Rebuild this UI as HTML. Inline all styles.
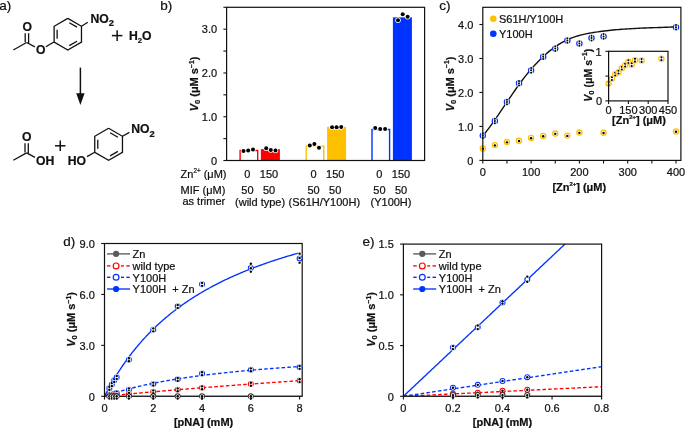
<!DOCTYPE html>
<html><head><meta charset="utf-8"><style>
html,body{margin:0;padding:0;background:#fff;}
svg{display:block;will-change:transform;}
text{font-family:"Liberation Sans", sans-serif;stroke:#111;stroke-width:0.22px;}
</style></head><body>
<svg width="685" height="429" viewBox="0 0 685 429" font-family='"Liberation Sans", sans-serif'>
<rect width="685" height="429" fill="#fff"/>
<text x="-0.80" y="10.20" font-size="13.5" text-anchor="start" font-weight="normal" fill="#111" >a)</text>
<line x1="13.30" y1="50.00" x2="26.60" y2="42.50" stroke="#111" stroke-width="1.3" />
<line x1="25.20" y1="42.30" x2="25.20" y2="33.20" stroke="#111" stroke-width="1.3" />
<line x1="28.60" y1="43.60" x2="28.60" y2="33.20" stroke="#111" stroke-width="1.3" />
<text x="27.20" y="30.80" font-size="12.2" text-anchor="middle" font-weight="bold" fill="#111" >O</text>
<line x1="26.60" y1="42.50" x2="34.90" y2="46.90" stroke="#111" stroke-width="1.3" />
<text x="40.80" y="54.00" font-size="12.2" text-anchor="middle" font-weight="bold" fill="#111" >O</text>
<line x1="45.80" y1="46.80" x2="54.00" y2="42.00" stroke="#111" stroke-width="1.3" />
<polyline points="67.80,18.40 81.48,26.30 81.48,42.10 67.80,50.00 54.12,42.10 54.12,26.30 67.80,18.40" fill="none" stroke="#111" stroke-width="1.3" stroke-linejoin="miter"/>
<line x1="69.29" y1="22.74" x2="76.98" y2="27.18" stroke="#111" stroke-width="1.3" />
<line x1="76.98" y1="41.22" x2="69.29" y2="45.66" stroke="#111" stroke-width="1.3" />
<line x1="57.13" y1="38.64" x2="57.13" y2="29.76" stroke="#111" stroke-width="1.3" />
<line x1="81.48" y1="26.30" x2="87.80" y2="22.30" stroke="#111" stroke-width="1.3" />
<text x="90.4" y="22.6" font-size="12.2" font-weight="bold" fill="#111">NO<tspan font-size="9.3" dy="3.1">2</tspan></text>
<line x1="111.90" y1="35.60" x2="122.40" y2="35.60" stroke="#111" stroke-width="1.5" />
<line x1="117.15" y1="30.30" x2="117.15" y2="40.90" stroke="#111" stroke-width="1.5" />
<text x="129.0" y="40.2" font-size="12.2" font-weight="bold" fill="#111">H<tspan font-size="7.6" dy="2.6">2</tspan><tspan dy="-2.6">O</tspan></text>
<line x1="80.40" y1="67.60" x2="80.40" y2="95.00" stroke="#111" stroke-width="1.5" />
<polygon points="76.2,93.2 84.6,93.2 80.4,105" fill="#111"/>
<line x1="13.30" y1="160.30" x2="26.60" y2="152.90" stroke="#111" stroke-width="1.3" />
<line x1="25.00" y1="152.60" x2="25.00" y2="143.20" stroke="#111" stroke-width="1.3" />
<line x1="28.30" y1="153.80" x2="28.30" y2="143.20" stroke="#111" stroke-width="1.3" />
<text x="26.80" y="141.20" font-size="12.2" text-anchor="middle" font-weight="bold" fill="#111" >O</text>
<line x1="26.60" y1="152.90" x2="35.00" y2="157.30" stroke="#111" stroke-width="1.3" />
<text x="36.00" y="165.00" font-size="12.2" text-anchor="start" font-weight="bold" fill="#111" >OH</text>
<line x1="55.00" y1="145.80" x2="65.50" y2="145.80" stroke="#111" stroke-width="1.5" />
<line x1="60.25" y1="140.60" x2="60.25" y2="151.00" stroke="#111" stroke-width="1.5" />
<polyline points="108.60,128.30 122.46,136.30 122.46,152.30 108.60,160.30 94.74,152.30 94.74,136.30 108.60,128.30" fill="none" stroke="#111" stroke-width="1.3" stroke-linejoin="miter"/>
<line x1="110.11" y1="132.69" x2="117.89" y2="137.19" stroke="#111" stroke-width="1.3" />
<line x1="117.89" y1="151.41" x2="110.11" y2="155.91" stroke="#111" stroke-width="1.3" />
<line x1="97.79" y1="148.79" x2="97.79" y2="139.81" stroke="#111" stroke-width="1.3" />
<line x1="87.00" y1="156.60" x2="94.74" y2="152.30" stroke="#111" stroke-width="1.3" />
<text x="67.80" y="164.60" font-size="12.2" text-anchor="start" font-weight="bold" fill="#111" >HO</text>
<line x1="122.46" y1="136.30" x2="129.40" y2="132.40" stroke="#111" stroke-width="1.3" />
<text x="131.2" y="133.4" font-size="12.2" font-weight="bold" fill="#111">NO<tspan font-size="9.3" dy="3.1">2</tspan></text>
<text x="160.30" y="10.00" font-size="13.5" text-anchor="start" font-weight="normal" fill="#111" >b)</text>
<path d="M240.10,160.50 V150.49 H257.70 V160.50" fill="#fff" stroke="#ff0000" stroke-width="1.4"/>
<circle cx="243.50" cy="151.00" r="2.75" fill="#fff" stroke="none" stroke-width="1"/>
<circle cx="248.20" cy="150.50" r="2.75" fill="#fff" stroke="none" stroke-width="1"/>
<circle cx="253.00" cy="149.60" r="2.75" fill="#fff" stroke="none" stroke-width="1"/>
<circle cx="243.50" cy="151.00" r="2.0" fill="#000" stroke="none" stroke-width="1"/>
<circle cx="248.20" cy="150.50" r="2.0" fill="#000" stroke="none" stroke-width="1"/>
<circle cx="253.00" cy="149.60" r="2.0" fill="#000" stroke="none" stroke-width="1"/>
<rect x="260.90" y="149.12" width="19.00" height="11.38" fill="#ff0000"/>
<circle cx="266.20" cy="148.20" r="2.75" fill="#fff" stroke="none" stroke-width="1"/>
<circle cx="270.80" cy="150.00" r="2.75" fill="#fff" stroke="none" stroke-width="1"/>
<circle cx="275.50" cy="150.40" r="2.75" fill="#fff" stroke="none" stroke-width="1"/>
<circle cx="266.20" cy="148.20" r="2.0" fill="#000" stroke="none" stroke-width="1"/>
<circle cx="270.80" cy="150.00" r="2.0" fill="#000" stroke="none" stroke-width="1"/>
<circle cx="275.50" cy="150.40" r="2.0" fill="#000" stroke="none" stroke-width="1"/>
<path d="M306.20,160.50 V146.12 H323.80 V160.50" fill="#fff" stroke="#ffc000" stroke-width="1.4"/>
<circle cx="309.80" cy="145.50" r="2.75" fill="#fff" stroke="none" stroke-width="1"/>
<circle cx="314.40" cy="144.00" r="2.75" fill="#fff" stroke="none" stroke-width="1"/>
<circle cx="319.00" cy="147.70" r="2.75" fill="#fff" stroke="none" stroke-width="1"/>
<circle cx="309.80" cy="145.50" r="2.0" fill="#000" stroke="none" stroke-width="1"/>
<circle cx="314.40" cy="144.00" r="2.0" fill="#000" stroke="none" stroke-width="1"/>
<circle cx="319.00" cy="147.70" r="2.0" fill="#000" stroke="none" stroke-width="1"/>
<rect x="327.10" y="126.80" width="19.00" height="33.70" fill="#ffc000"/>
<circle cx="332.10" cy="127.20" r="2.75" fill="#fff" stroke="none" stroke-width="1"/>
<circle cx="336.60" cy="127.20" r="2.75" fill="#fff" stroke="none" stroke-width="1"/>
<circle cx="341.20" cy="127.00" r="2.75" fill="#fff" stroke="none" stroke-width="1"/>
<circle cx="332.10" cy="127.20" r="2.0" fill="#000" stroke="none" stroke-width="1"/>
<circle cx="336.60" cy="127.20" r="2.0" fill="#000" stroke="none" stroke-width="1"/>
<circle cx="341.20" cy="127.00" r="2.0" fill="#000" stroke="none" stroke-width="1"/>
<path d="M372.00,160.50 V129.48 H389.60 V160.50" fill="#fff" stroke="#0033ff" stroke-width="1.4"/>
<circle cx="375.20" cy="128.10" r="2.75" fill="#fff" stroke="none" stroke-width="1"/>
<circle cx="380.20" cy="129.00" r="2.75" fill="#fff" stroke="none" stroke-width="1"/>
<circle cx="385.10" cy="129.10" r="2.75" fill="#fff" stroke="none" stroke-width="1"/>
<circle cx="375.20" cy="128.10" r="2.0" fill="#000" stroke="none" stroke-width="1"/>
<circle cx="380.20" cy="129.00" r="2.0" fill="#000" stroke="none" stroke-width="1"/>
<circle cx="385.10" cy="129.10" r="2.0" fill="#000" stroke="none" stroke-width="1"/>
<rect x="392.90" y="17.37" width="19.00" height="143.13" fill="#0033ff"/>
<circle cx="398.00" cy="20.30" r="2.75" fill="#fff" stroke="none" stroke-width="1"/>
<circle cx="402.70" cy="14.30" r="2.75" fill="#fff" stroke="none" stroke-width="1"/>
<circle cx="407.60" cy="16.80" r="2.75" fill="#fff" stroke="none" stroke-width="1"/>
<circle cx="398.00" cy="20.30" r="2.0" fill="#000" stroke="none" stroke-width="1"/>
<circle cx="402.70" cy="14.30" r="2.0" fill="#000" stroke="none" stroke-width="1"/>
<circle cx="407.60" cy="16.80" r="2.0" fill="#000" stroke="none" stroke-width="1"/>
<rect x="226.60" y="7.30" width="198.00" height="153.20" fill="none" stroke="#111" stroke-width="1.2"/>
<line x1="223.40" y1="160.50" x2="226.60" y2="160.50" stroke="#111" stroke-width="1.1" />
<line x1="223.40" y1="138.61" x2="226.60" y2="138.61" stroke="#111" stroke-width="1.1" />
<line x1="223.40" y1="116.73" x2="226.60" y2="116.73" stroke="#111" stroke-width="1.1" />
<line x1="223.40" y1="94.84" x2="226.60" y2="94.84" stroke="#111" stroke-width="1.1" />
<line x1="223.40" y1="72.96" x2="226.60" y2="72.96" stroke="#111" stroke-width="1.1" />
<line x1="223.40" y1="51.07" x2="226.60" y2="51.07" stroke="#111" stroke-width="1.1" />
<line x1="223.40" y1="29.19" x2="226.60" y2="29.19" stroke="#111" stroke-width="1.1" />
<line x1="223.40" y1="7.30" x2="226.60" y2="7.30" stroke="#111" stroke-width="1.1" />
<text x="217.10" y="164.70" font-size="11.0" text-anchor="end" font-weight="normal" fill="#111" >0</text>
<text x="217.10" y="120.93" font-size="11.0" text-anchor="end" font-weight="normal" fill="#111" >1.0</text>
<text x="217.10" y="77.16" font-size="11.0" text-anchor="end" font-weight="normal" fill="#111" >2.0</text>
<text x="217.10" y="33.39" font-size="11.0" text-anchor="end" font-weight="normal" fill="#111" >3.0</text>
<text transform="translate(197.9,84) rotate(-90)" x="0" y="0" font-size="11.0" font-weight="bold" text-anchor="middle" fill="#111"><tspan font-style="italic">V</tspan><tspan font-size="7.5" dy="2">0</tspan><tspan dy="-2"> (μM s</tspan><tspan font-size="6.8" dy="-4.3">−1</tspan><tspan dy="4.3">)</tspan></text>
<text x="180.60" y="177.60" font-size="11.0" text-anchor="start" font-weight="normal" fill="#111" >Zn<tspan font-size="6.3" dy="-4.8">2+</tspan><tspan dy="4.8"> (μM)</tspan></text>
<text x="180.60" y="194.20" font-size="11.0" text-anchor="start" font-weight="normal" fill="#111" >MIF (μM)</text>
<text x="203.80" y="204.80" font-size="11.0" text-anchor="middle" font-weight="normal" fill="#111" >as trimer</text>
<text x="247.40" y="177.60" font-size="11.0" text-anchor="middle" font-weight="normal" fill="#111" >0</text>
<text x="269.00" y="177.60" font-size="11.0" text-anchor="middle" font-weight="normal" fill="#111" >150</text>
<text x="313.60" y="177.60" font-size="11.0" text-anchor="middle" font-weight="normal" fill="#111" >0</text>
<text x="335.20" y="177.60" font-size="11.0" text-anchor="middle" font-weight="normal" fill="#111" >150</text>
<text x="379.40" y="177.60" font-size="11.0" text-anchor="middle" font-weight="normal" fill="#111" >0</text>
<text x="401.00" y="177.60" font-size="11.0" text-anchor="middle" font-weight="normal" fill="#111" >150</text>
<text x="247.40" y="194.20" font-size="11.0" text-anchor="middle" font-weight="normal" fill="#111" >50</text>
<text x="269.00" y="194.20" font-size="11.0" text-anchor="middle" font-weight="normal" fill="#111" >50</text>
<text x="313.60" y="194.20" font-size="11.0" text-anchor="middle" font-weight="normal" fill="#111" >50</text>
<text x="335.20" y="194.20" font-size="11.0" text-anchor="middle" font-weight="normal" fill="#111" >50</text>
<text x="379.40" y="194.20" font-size="11.0" text-anchor="middle" font-weight="normal" fill="#111" >50</text>
<text x="401.00" y="194.20" font-size="11.0" text-anchor="middle" font-weight="normal" fill="#111" >50</text>
<text x="260.10" y="205.80" font-size="11.0" text-anchor="middle" font-weight="normal" fill="#111" >(wild type)</text>
<text x="324.30" y="205.80" font-size="11.0" text-anchor="middle" font-weight="normal" fill="#111" >(S61H/Y100H)</text>
<text x="391.00" y="205.80" font-size="11.0" text-anchor="middle" font-weight="normal" fill="#111" >(Y100H)</text>
<text x="439.20" y="10.30" font-size="13.5" text-anchor="start" font-weight="normal" fill="#111" >c)</text>
<polyline points="482.80,135.94 484.97,133.24 487.14,130.44 489.31,127.55 491.48,124.58 493.65,121.53 495.82,118.43 498.00,115.28 500.17,112.10 502.34,108.89 504.51,105.67 506.68,102.44 508.85,99.23 511.02,96.04 513.19,92.87 515.36,89.76 517.53,86.70 519.70,83.70 521.87,80.78 524.04,77.94 526.22,75.17 528.39,72.49 530.56,69.90 532.73,67.40 534.90,64.98 537.07,62.66 539.24,60.43 541.41,58.28 543.58,56.23 545.75,54.27 547.92,52.40 550.09,50.63 552.27,48.94 554.44,47.35 556.61,45.85 558.78,44.44 560.95,43.12 563.12,41.89 565.29,40.76 567.46,39.72 569.63,38.77 571.80,37.90 573.97,37.11 576.14,36.40 578.31,35.75 580.49,35.15 582.66,34.61 584.83,34.12 587.00,33.67 589.17,33.26 591.34,32.87 593.51,32.51 595.68,32.17 597.85,31.84 600.02,31.53 602.19,31.24 604.36,30.97 606.53,30.71 608.71,30.46 610.88,30.23 613.05,30.02 615.22,29.81 617.39,29.62 619.56,29.44 621.73,29.28 623.90,29.12 626.07,28.97 628.24,28.83 630.41,28.70 632.58,28.58 634.76,28.47 636.93,28.36 639.10,28.26 641.27,28.16 643.44,28.07 645.61,27.99 647.78,27.90 649.95,27.82 652.12,27.75 654.29,27.67 656.46,27.59 658.63,27.52 660.80,27.45 662.98,27.37 665.15,27.29 667.32,27.21 669.49,27.13 671.66,27.05 673.83,26.96 676.00,26.86" fill="none" stroke="#111" stroke-width="1.4" />
<circle cx="482.80" cy="148.51" r="2.55" fill="#fff" stroke="#ffc000" stroke-width="1.3"/>
<circle cx="482.80" cy="148.81" r="1.5" fill="#fff" stroke="none" stroke-width="1"/>
<circle cx="482.80" cy="148.81" r="1.2" fill="#000" stroke="none" stroke-width="1"/>
<circle cx="494.88" cy="145.11" r="2.55" fill="#fff" stroke="#ffc000" stroke-width="1.3"/>
<circle cx="494.88" cy="145.41" r="1.5" fill="#fff" stroke="none" stroke-width="1"/>
<circle cx="494.88" cy="145.41" r="1.2" fill="#000" stroke="none" stroke-width="1"/>
<circle cx="506.95" cy="142.05" r="2.55" fill="#fff" stroke="#ffc000" stroke-width="1.3"/>
<circle cx="506.95" cy="142.35" r="1.5" fill="#fff" stroke="none" stroke-width="1"/>
<circle cx="506.95" cy="142.35" r="1.2" fill="#000" stroke="none" stroke-width="1"/>
<circle cx="519.02" cy="140.69" r="2.55" fill="#fff" stroke="#ffc000" stroke-width="1.3"/>
<circle cx="519.02" cy="140.99" r="1.5" fill="#fff" stroke="none" stroke-width="1"/>
<circle cx="519.02" cy="140.99" r="1.2" fill="#000" stroke="none" stroke-width="1"/>
<circle cx="531.10" cy="137.98" r="2.55" fill="#fff" stroke="#ffc000" stroke-width="1.3"/>
<circle cx="531.10" cy="138.28" r="1.5" fill="#fff" stroke="none" stroke-width="1"/>
<circle cx="531.10" cy="138.28" r="1.2" fill="#000" stroke="none" stroke-width="1"/>
<circle cx="543.17" cy="135.94" r="2.55" fill="#fff" stroke="#ffc000" stroke-width="1.3"/>
<circle cx="543.17" cy="136.24" r="1.5" fill="#fff" stroke="none" stroke-width="1"/>
<circle cx="543.17" cy="136.24" r="1.2" fill="#000" stroke="none" stroke-width="1"/>
<circle cx="555.25" cy="133.56" r="2.55" fill="#fff" stroke="#ffc000" stroke-width="1.3"/>
<circle cx="555.25" cy="133.86" r="1.5" fill="#fff" stroke="none" stroke-width="1"/>
<circle cx="555.25" cy="133.86" r="1.2" fill="#000" stroke="none" stroke-width="1"/>
<circle cx="567.33" cy="135.60" r="2.55" fill="#fff" stroke="#ffc000" stroke-width="1.3"/>
<circle cx="567.33" cy="135.90" r="1.5" fill="#fff" stroke="none" stroke-width="1"/>
<circle cx="567.33" cy="135.90" r="1.2" fill="#000" stroke="none" stroke-width="1"/>
<circle cx="579.40" cy="132.54" r="2.55" fill="#fff" stroke="#ffc000" stroke-width="1.3"/>
<circle cx="579.40" cy="132.84" r="1.5" fill="#fff" stroke="none" stroke-width="1"/>
<circle cx="579.40" cy="132.84" r="1.2" fill="#000" stroke="none" stroke-width="1"/>
<circle cx="603.55" cy="132.71" r="2.55" fill="#fff" stroke="#ffc000" stroke-width="1.3"/>
<circle cx="603.55" cy="133.01" r="1.5" fill="#fff" stroke="none" stroke-width="1"/>
<circle cx="603.55" cy="133.01" r="1.2" fill="#000" stroke="none" stroke-width="1"/>
<circle cx="676.00" cy="131.52" r="2.55" fill="#fff" stroke="#ffc000" stroke-width="1.3"/>
<circle cx="676.00" cy="131.82" r="1.5" fill="#fff" stroke="none" stroke-width="1"/>
<circle cx="676.00" cy="131.82" r="1.2" fill="#000" stroke="none" stroke-width="1"/>
<circle cx="482.80" cy="135.60" r="2.6" fill="#fff" stroke="#0033ff" stroke-width="1.25"/>
<circle cx="482.80" cy="133.30" r="1.7" fill="#fff" stroke="none" stroke-width="1"/>
<circle cx="482.80" cy="135.60" r="1.7" fill="#fff" stroke="none" stroke-width="1"/>
<circle cx="482.80" cy="137.90" r="1.7" fill="#fff" stroke="none" stroke-width="1"/>
<circle cx="482.80" cy="133.30" r="1.0" fill="#000" stroke="none" stroke-width="1"/>
<circle cx="482.80" cy="135.60" r="1.0" fill="#000" stroke="none" stroke-width="1"/>
<circle cx="482.80" cy="137.90" r="1.0" fill="#000" stroke="none" stroke-width="1"/>
<circle cx="494.88" cy="120.99" r="2.6" fill="#fff" stroke="#0033ff" stroke-width="1.25"/>
<circle cx="494.88" cy="118.69" r="1.7" fill="#fff" stroke="none" stroke-width="1"/>
<circle cx="494.88" cy="120.99" r="1.7" fill="#fff" stroke="none" stroke-width="1"/>
<circle cx="494.88" cy="123.29" r="1.7" fill="#fff" stroke="none" stroke-width="1"/>
<circle cx="494.88" cy="118.69" r="1.0" fill="#000" stroke="none" stroke-width="1"/>
<circle cx="494.88" cy="120.99" r="1.0" fill="#000" stroke="none" stroke-width="1"/>
<circle cx="494.88" cy="123.29" r="1.0" fill="#000" stroke="none" stroke-width="1"/>
<circle cx="506.95" cy="101.96" r="2.6" fill="#fff" stroke="#0033ff" stroke-width="1.25"/>
<circle cx="506.95" cy="99.66" r="1.7" fill="#fff" stroke="none" stroke-width="1"/>
<circle cx="506.95" cy="101.96" r="1.7" fill="#fff" stroke="none" stroke-width="1"/>
<circle cx="506.95" cy="104.26" r="1.7" fill="#fff" stroke="none" stroke-width="1"/>
<circle cx="506.95" cy="99.66" r="1.0" fill="#000" stroke="none" stroke-width="1"/>
<circle cx="506.95" cy="101.96" r="1.0" fill="#000" stroke="none" stroke-width="1"/>
<circle cx="506.95" cy="104.26" r="1.0" fill="#000" stroke="none" stroke-width="1"/>
<circle cx="519.02" cy="83.28" r="2.6" fill="#fff" stroke="#0033ff" stroke-width="1.25"/>
<circle cx="519.02" cy="80.98" r="1.7" fill="#fff" stroke="none" stroke-width="1"/>
<circle cx="519.02" cy="83.28" r="1.7" fill="#fff" stroke="none" stroke-width="1"/>
<circle cx="519.02" cy="85.58" r="1.7" fill="#fff" stroke="none" stroke-width="1"/>
<circle cx="519.02" cy="80.98" r="1.0" fill="#000" stroke="none" stroke-width="1"/>
<circle cx="519.02" cy="83.28" r="1.0" fill="#000" stroke="none" stroke-width="1"/>
<circle cx="519.02" cy="85.58" r="1.0" fill="#000" stroke="none" stroke-width="1"/>
<circle cx="531.10" cy="70.37" r="2.6" fill="#fff" stroke="#0033ff" stroke-width="1.25"/>
<circle cx="531.10" cy="68.07" r="1.7" fill="#fff" stroke="none" stroke-width="1"/>
<circle cx="531.10" cy="70.37" r="1.7" fill="#fff" stroke="none" stroke-width="1"/>
<circle cx="531.10" cy="72.67" r="1.7" fill="#fff" stroke="none" stroke-width="1"/>
<circle cx="531.10" cy="68.07" r="1.0" fill="#000" stroke="none" stroke-width="1"/>
<circle cx="531.10" cy="70.37" r="1.0" fill="#000" stroke="none" stroke-width="1"/>
<circle cx="531.10" cy="72.67" r="1.0" fill="#000" stroke="none" stroke-width="1"/>
<circle cx="543.17" cy="56.78" r="2.6" fill="#fff" stroke="#0033ff" stroke-width="1.25"/>
<circle cx="543.17" cy="54.48" r="1.7" fill="#fff" stroke="none" stroke-width="1"/>
<circle cx="543.17" cy="56.78" r="1.7" fill="#fff" stroke="none" stroke-width="1"/>
<circle cx="543.17" cy="59.08" r="1.7" fill="#fff" stroke="none" stroke-width="1"/>
<circle cx="543.17" cy="54.48" r="1.0" fill="#000" stroke="none" stroke-width="1"/>
<circle cx="543.17" cy="56.78" r="1.0" fill="#000" stroke="none" stroke-width="1"/>
<circle cx="543.17" cy="59.08" r="1.0" fill="#000" stroke="none" stroke-width="1"/>
<circle cx="555.25" cy="48.62" r="2.6" fill="#fff" stroke="#0033ff" stroke-width="1.25"/>
<circle cx="555.25" cy="46.32" r="1.7" fill="#fff" stroke="none" stroke-width="1"/>
<circle cx="555.25" cy="48.62" r="1.7" fill="#fff" stroke="none" stroke-width="1"/>
<circle cx="555.25" cy="50.92" r="1.7" fill="#fff" stroke="none" stroke-width="1"/>
<circle cx="555.25" cy="46.32" r="1.0" fill="#000" stroke="none" stroke-width="1"/>
<circle cx="555.25" cy="48.62" r="1.0" fill="#000" stroke="none" stroke-width="1"/>
<circle cx="555.25" cy="50.92" r="1.0" fill="#000" stroke="none" stroke-width="1"/>
<circle cx="567.33" cy="40.47" r="2.6" fill="#fff" stroke="#0033ff" stroke-width="1.25"/>
<circle cx="567.33" cy="38.17" r="1.7" fill="#fff" stroke="none" stroke-width="1"/>
<circle cx="567.33" cy="40.47" r="1.7" fill="#fff" stroke="none" stroke-width="1"/>
<circle cx="567.33" cy="42.77" r="1.7" fill="#fff" stroke="none" stroke-width="1"/>
<circle cx="567.33" cy="38.17" r="1.0" fill="#000" stroke="none" stroke-width="1"/>
<circle cx="567.33" cy="40.47" r="1.0" fill="#000" stroke="none" stroke-width="1"/>
<circle cx="567.33" cy="42.77" r="1.0" fill="#000" stroke="none" stroke-width="1"/>
<circle cx="579.40" cy="43.53" r="2.6" fill="#fff" stroke="#0033ff" stroke-width="1.25"/>
<circle cx="579.40" cy="41.23" r="1.7" fill="#fff" stroke="none" stroke-width="1"/>
<circle cx="579.40" cy="43.53" r="1.7" fill="#fff" stroke="none" stroke-width="1"/>
<circle cx="579.40" cy="45.83" r="1.7" fill="#fff" stroke="none" stroke-width="1"/>
<circle cx="579.40" cy="41.23" r="1.0" fill="#000" stroke="none" stroke-width="1"/>
<circle cx="579.40" cy="43.53" r="1.0" fill="#000" stroke="none" stroke-width="1"/>
<circle cx="579.40" cy="45.83" r="1.0" fill="#000" stroke="none" stroke-width="1"/>
<circle cx="591.48" cy="38.09" r="2.6" fill="#fff" stroke="#0033ff" stroke-width="1.25"/>
<circle cx="591.48" cy="35.79" r="1.7" fill="#fff" stroke="none" stroke-width="1"/>
<circle cx="591.48" cy="38.09" r="1.7" fill="#fff" stroke="none" stroke-width="1"/>
<circle cx="591.48" cy="40.39" r="1.7" fill="#fff" stroke="none" stroke-width="1"/>
<circle cx="591.48" cy="35.79" r="1.0" fill="#000" stroke="none" stroke-width="1"/>
<circle cx="591.48" cy="38.09" r="1.0" fill="#000" stroke="none" stroke-width="1"/>
<circle cx="591.48" cy="40.39" r="1.0" fill="#000" stroke="none" stroke-width="1"/>
<circle cx="603.55" cy="36.39" r="2.6" fill="#fff" stroke="#0033ff" stroke-width="1.25"/>
<circle cx="603.55" cy="34.09" r="1.7" fill="#fff" stroke="none" stroke-width="1"/>
<circle cx="603.55" cy="36.39" r="1.7" fill="#fff" stroke="none" stroke-width="1"/>
<circle cx="603.55" cy="38.69" r="1.7" fill="#fff" stroke="none" stroke-width="1"/>
<circle cx="603.55" cy="34.09" r="1.0" fill="#000" stroke="none" stroke-width="1"/>
<circle cx="603.55" cy="36.39" r="1.0" fill="#000" stroke="none" stroke-width="1"/>
<circle cx="603.55" cy="38.69" r="1.0" fill="#000" stroke="none" stroke-width="1"/>
<circle cx="676.00" cy="27.22" r="2.6" fill="#fff" stroke="#0033ff" stroke-width="1.25"/>
<circle cx="676.00" cy="24.92" r="1.7" fill="#fff" stroke="none" stroke-width="1"/>
<circle cx="676.00" cy="27.22" r="1.7" fill="#fff" stroke="none" stroke-width="1"/>
<circle cx="676.00" cy="29.52" r="1.7" fill="#fff" stroke="none" stroke-width="1"/>
<circle cx="676.00" cy="24.92" r="1.0" fill="#000" stroke="none" stroke-width="1"/>
<circle cx="676.00" cy="27.22" r="1.0" fill="#000" stroke="none" stroke-width="1"/>
<circle cx="676.00" cy="29.52" r="1.0" fill="#000" stroke="none" stroke-width="1"/>
<rect x="482.80" y="7.30" width="198.10" height="153.10" fill="none" stroke="#111" stroke-width="1.2"/>
<line x1="479.40" y1="160.40" x2="482.80" y2="160.40" stroke="#111" stroke-width="1.1" />
<text x="473.40" y="164.60" font-size="11.0" text-anchor="end" font-weight="normal" fill="#111" >0</text>
<line x1="479.40" y1="126.43" x2="482.80" y2="126.43" stroke="#111" stroke-width="1.1" />
<text x="473.40" y="130.62" font-size="11.0" text-anchor="end" font-weight="normal" fill="#111" >1.0</text>
<line x1="479.40" y1="92.45" x2="482.80" y2="92.45" stroke="#111" stroke-width="1.1" />
<text x="473.40" y="96.65" font-size="11.0" text-anchor="end" font-weight="normal" fill="#111" >2.0</text>
<line x1="479.40" y1="58.47" x2="482.80" y2="58.47" stroke="#111" stroke-width="1.1" />
<text x="473.40" y="62.67" font-size="11.0" text-anchor="end" font-weight="normal" fill="#111" >3.0</text>
<line x1="479.40" y1="24.50" x2="482.80" y2="24.50" stroke="#111" stroke-width="1.1" />
<text x="473.40" y="28.70" font-size="11.0" text-anchor="end" font-weight="normal" fill="#111" >4.0</text>
<line x1="482.80" y1="160.40" x2="482.80" y2="163.40" stroke="#111" stroke-width="1.1" />
<line x1="506.95" y1="160.40" x2="506.95" y2="163.40" stroke="#111" stroke-width="1.1" />
<line x1="531.10" y1="160.40" x2="531.10" y2="163.40" stroke="#111" stroke-width="1.1" />
<line x1="555.25" y1="160.40" x2="555.25" y2="163.40" stroke="#111" stroke-width="1.1" />
<line x1="579.40" y1="160.40" x2="579.40" y2="163.40" stroke="#111" stroke-width="1.1" />
<line x1="603.55" y1="160.40" x2="603.55" y2="163.40" stroke="#111" stroke-width="1.1" />
<line x1="627.70" y1="160.40" x2="627.70" y2="163.40" stroke="#111" stroke-width="1.1" />
<line x1="651.85" y1="160.40" x2="651.85" y2="163.40" stroke="#111" stroke-width="1.1" />
<line x1="676.00" y1="160.40" x2="676.00" y2="163.40" stroke="#111" stroke-width="1.1" />
<text x="482.80" y="175.60" font-size="11.0" text-anchor="middle" font-weight="normal" fill="#111" >0</text>
<text x="531.10" y="175.60" font-size="11.0" text-anchor="middle" font-weight="normal" fill="#111" >100</text>
<text x="579.40" y="175.60" font-size="11.0" text-anchor="middle" font-weight="normal" fill="#111" >200</text>
<text x="627.70" y="175.60" font-size="11.0" text-anchor="middle" font-weight="normal" fill="#111" >300</text>
<text x="676.00" y="175.60" font-size="11.0" text-anchor="middle" font-weight="normal" fill="#111" >400</text>
<text x="579.3" y="190.5" font-size="11.0" font-weight="bold" text-anchor="middle" fill="#111">[Zn<tspan font-size="5.9" dy="-4.8">2+</tspan><tspan dy="4.8">] (μM)</tspan></text>
<text transform="translate(453.6,84) rotate(-90)" x="0" y="0" font-size="11.0" font-weight="bold" text-anchor="middle" fill="#111"><tspan font-style="italic">V</tspan><tspan font-size="7.5" dy="2">0</tspan><tspan dy="-2"> (μM s</tspan><tspan font-size="6.8" dy="-4.3">−1</tspan><tspan dy="4.3">)</tspan></text>
<circle cx="493.30" cy="18.80" r="3.3" fill="#ffc000" stroke="none" stroke-width="1"/>
<circle cx="493.30" cy="33.80" r="3.3" fill="#0033ff" stroke="none" stroke-width="1"/>
<text x="499.00" y="22.80" font-size="11.0" text-anchor="start" font-weight="normal" fill="#111" >S61H/Y100H</text>
<text x="499.00" y="37.80" font-size="11.0" text-anchor="start" font-weight="normal" fill="#111" >Y100H</text>
<rect x="606.60" y="49.30" width="63.40" height="53.60" fill="#fff"/>
<circle cx="608.60" cy="83.54" r="2.6" fill="#fff" stroke="#ffc000" stroke-width="1.2"/>
<circle cx="608.60" cy="82.14" r="1.55" fill="#fff" stroke="none" stroke-width="1"/>
<circle cx="608.60" cy="84.94" r="1.55" fill="#fff" stroke="none" stroke-width="1"/>
<circle cx="608.60" cy="82.14" r="1.05" fill="#000" stroke="none" stroke-width="1"/>
<circle cx="608.60" cy="84.94" r="1.05" fill="#000" stroke="none" stroke-width="1"/>
<circle cx="611.90" cy="78.58" r="2.6" fill="#fff" stroke="#ffc000" stroke-width="1.2"/>
<circle cx="611.90" cy="77.18" r="1.55" fill="#fff" stroke="none" stroke-width="1"/>
<circle cx="611.90" cy="79.98" r="1.55" fill="#fff" stroke="none" stroke-width="1"/>
<circle cx="611.90" cy="77.18" r="1.05" fill="#000" stroke="none" stroke-width="1"/>
<circle cx="611.90" cy="79.98" r="1.05" fill="#000" stroke="none" stroke-width="1"/>
<circle cx="615.20" cy="74.12" r="2.6" fill="#fff" stroke="#ffc000" stroke-width="1.2"/>
<circle cx="615.20" cy="72.72" r="1.55" fill="#fff" stroke="none" stroke-width="1"/>
<circle cx="615.20" cy="75.52" r="1.55" fill="#fff" stroke="none" stroke-width="1"/>
<circle cx="615.20" cy="72.72" r="1.05" fill="#000" stroke="none" stroke-width="1"/>
<circle cx="615.20" cy="75.52" r="1.05" fill="#000" stroke="none" stroke-width="1"/>
<circle cx="618.50" cy="72.13" r="2.6" fill="#fff" stroke="#ffc000" stroke-width="1.2"/>
<circle cx="618.50" cy="70.73" r="1.55" fill="#fff" stroke="none" stroke-width="1"/>
<circle cx="618.50" cy="73.53" r="1.55" fill="#fff" stroke="none" stroke-width="1"/>
<circle cx="618.50" cy="70.73" r="1.05" fill="#000" stroke="none" stroke-width="1"/>
<circle cx="618.50" cy="73.53" r="1.05" fill="#000" stroke="none" stroke-width="1"/>
<circle cx="621.80" cy="68.16" r="2.6" fill="#fff" stroke="#ffc000" stroke-width="1.2"/>
<circle cx="621.80" cy="66.76" r="1.55" fill="#fff" stroke="none" stroke-width="1"/>
<circle cx="621.80" cy="69.56" r="1.55" fill="#fff" stroke="none" stroke-width="1"/>
<circle cx="621.80" cy="66.76" r="1.05" fill="#000" stroke="none" stroke-width="1"/>
<circle cx="621.80" cy="69.56" r="1.05" fill="#000" stroke="none" stroke-width="1"/>
<circle cx="625.10" cy="65.19" r="2.6" fill="#fff" stroke="#ffc000" stroke-width="1.2"/>
<circle cx="625.10" cy="63.79" r="1.55" fill="#fff" stroke="none" stroke-width="1"/>
<circle cx="625.10" cy="66.59" r="1.55" fill="#fff" stroke="none" stroke-width="1"/>
<circle cx="625.10" cy="63.79" r="1.05" fill="#000" stroke="none" stroke-width="1"/>
<circle cx="625.10" cy="66.59" r="1.05" fill="#000" stroke="none" stroke-width="1"/>
<circle cx="628.40" cy="61.72" r="2.6" fill="#fff" stroke="#ffc000" stroke-width="1.2"/>
<circle cx="628.40" cy="60.32" r="1.55" fill="#fff" stroke="none" stroke-width="1"/>
<circle cx="628.40" cy="63.12" r="1.55" fill="#fff" stroke="none" stroke-width="1"/>
<circle cx="628.40" cy="60.32" r="1.05" fill="#000" stroke="none" stroke-width="1"/>
<circle cx="628.40" cy="63.12" r="1.05" fill="#000" stroke="none" stroke-width="1"/>
<circle cx="631.70" cy="64.69" r="2.6" fill="#fff" stroke="#ffc000" stroke-width="1.2"/>
<circle cx="631.70" cy="63.29" r="1.55" fill="#fff" stroke="none" stroke-width="1"/>
<circle cx="631.70" cy="66.09" r="1.55" fill="#fff" stroke="none" stroke-width="1"/>
<circle cx="631.70" cy="63.29" r="1.05" fill="#000" stroke="none" stroke-width="1"/>
<circle cx="631.70" cy="66.09" r="1.05" fill="#000" stroke="none" stroke-width="1"/>
<circle cx="635.00" cy="60.23" r="2.6" fill="#fff" stroke="#ffc000" stroke-width="1.2"/>
<circle cx="635.00" cy="58.83" r="1.55" fill="#fff" stroke="none" stroke-width="1"/>
<circle cx="635.00" cy="61.63" r="1.55" fill="#fff" stroke="none" stroke-width="1"/>
<circle cx="635.00" cy="58.83" r="1.05" fill="#000" stroke="none" stroke-width="1"/>
<circle cx="635.00" cy="61.63" r="1.05" fill="#000" stroke="none" stroke-width="1"/>
<circle cx="641.60" cy="60.48" r="2.6" fill="#fff" stroke="#ffc000" stroke-width="1.2"/>
<circle cx="641.60" cy="59.08" r="1.55" fill="#fff" stroke="none" stroke-width="1"/>
<circle cx="641.60" cy="61.88" r="1.55" fill="#fff" stroke="none" stroke-width="1"/>
<circle cx="641.60" cy="59.08" r="1.05" fill="#000" stroke="none" stroke-width="1"/>
<circle cx="641.60" cy="61.88" r="1.05" fill="#000" stroke="none" stroke-width="1"/>
<circle cx="661.40" cy="58.74" r="2.6" fill="#fff" stroke="#ffc000" stroke-width="1.2"/>
<circle cx="661.40" cy="57.34" r="1.55" fill="#fff" stroke="none" stroke-width="1"/>
<circle cx="661.40" cy="60.14" r="1.55" fill="#fff" stroke="none" stroke-width="1"/>
<circle cx="661.40" cy="57.34" r="1.05" fill="#000" stroke="none" stroke-width="1"/>
<circle cx="661.40" cy="60.14" r="1.05" fill="#000" stroke="none" stroke-width="1"/>
<rect x="608.60" y="51.30" width="59.40" height="49.60" fill="none" stroke="#111" stroke-width="1.2"/>
<line x1="605.40" y1="100.90" x2="608.60" y2="100.90" stroke="#111" stroke-width="1.1" />
<line x1="605.40" y1="76.10" x2="608.60" y2="76.10" stroke="#111" stroke-width="1.1" />
<line x1="605.40" y1="51.30" x2="608.60" y2="51.30" stroke="#111" stroke-width="1.1" />
<text x="601.60" y="55.50" font-size="11.0" text-anchor="end" font-weight="normal" fill="#111" >1</text>
<text x="602.10" y="105.10" font-size="11.0" text-anchor="end" font-weight="normal" fill="#111" >0</text>
<line x1="608.60" y1="100.90" x2="608.60" y2="103.90" stroke="#111" stroke-width="1.1" />
<text x="608.60" y="113.90" font-size="11.0" text-anchor="middle" font-weight="normal" fill="#111" >0</text>
<line x1="628.40" y1="100.90" x2="628.40" y2="103.90" stroke="#111" stroke-width="1.1" />
<text x="628.40" y="113.90" font-size="11.0" text-anchor="middle" font-weight="normal" fill="#111" >150</text>
<line x1="648.20" y1="100.90" x2="648.20" y2="103.90" stroke="#111" stroke-width="1.1" />
<text x="648.20" y="113.90" font-size="11.0" text-anchor="middle" font-weight="normal" fill="#111" >300</text>
<line x1="668.00" y1="100.90" x2="668.00" y2="103.90" stroke="#111" stroke-width="1.1" />
<text x="668.00" y="113.90" font-size="11.0" text-anchor="middle" font-weight="normal" fill="#111" >450</text>
<text x="639.0" y="123.8" font-size="11.0" font-weight="bold" text-anchor="middle" fill="#111">[Zn<tspan font-size="5.9" dy="-4.8">2+</tspan><tspan dy="4.8">] (μM)</tspan></text>
<text transform="translate(591.6,75.2) rotate(-90)" x="0" y="0" font-size="10.6" font-weight="bold" text-anchor="middle" fill="#111"><tspan font-style="italic">V</tspan><tspan font-size="7.5" dy="2">0</tspan><tspan dy="-2"> (μM s</tspan><tspan font-size="6.8" dy="-4.3">−1</tspan><tspan dy="4.3">)</tspan></text>
<text x="63.20" y="246.30" font-size="13.5" text-anchor="start" font-weight="normal" fill="#111" >d)</text>
<clipPath id="clipd"><rect x="104.5" y="243.5" width="197.7" height="152.8"/></clipPath>
<g clip-path="url(#clipd)">
<polyline points="104.50,396.30 105.50,396.30 106.51,396.30 107.51,396.30 108.52,396.30 109.52,396.30 110.53,396.30 111.53,396.30 112.54,396.30 113.54,396.30 114.55,396.30 115.55,396.30 116.56,396.30 117.56,396.30 118.57,396.30 119.57,396.30 120.58,396.30 121.58,396.30 122.59,396.30 123.59,396.30 124.60,396.30 125.60,396.30 126.61,396.30 127.61,396.30 128.62,396.30 129.62,396.30 130.63,396.30 131.63,396.30 132.64,396.30 133.64,396.30 134.65,396.30 135.65,396.30 136.66,396.30 137.66,396.30 138.67,396.30 139.67,396.30 140.68,396.30 141.68,396.30 142.69,396.30 143.69,396.30 144.70,396.30 145.70,396.30 146.71,396.30 147.71,396.30 148.72,396.30 149.72,396.30 150.73,396.30 151.73,396.30 152.74,396.30 153.74,396.30 154.75,396.30 155.75,396.30 156.76,396.30 157.76,396.30 158.77,396.30 159.77,396.30 160.78,396.30 161.78,396.30 162.78,396.30 163.79,396.30 164.79,396.30 165.80,396.30 166.80,396.30 167.81,396.30 168.81,396.30 169.82,396.30 170.82,396.30 171.83,396.30 172.83,396.30 173.84,396.30 174.84,396.30 175.85,396.30 176.85,396.30 177.86,396.30 178.86,396.30 179.87,396.30 180.87,396.30 181.88,396.30 182.88,396.30 183.89,396.30 184.89,396.30 185.90,396.30 186.90,396.30 187.91,396.30 188.91,396.30 189.92,396.30 190.92,396.30 191.93,396.30 192.93,396.30 193.94,396.30 194.94,396.30 195.95,396.30 196.95,396.30 197.96,396.30 198.96,396.30 199.97,396.30 200.97,396.30 201.98,396.30 202.98,396.30 203.99,396.30 204.99,396.30 206.00,396.30 207.00,396.30 208.01,396.30 209.01,396.30 210.02,396.30 211.02,396.30 212.03,396.30 213.03,396.30 214.04,396.30 215.04,396.30 216.05,396.30 217.05,396.30 218.06,396.30 219.06,396.30 220.06,396.30 221.07,396.30 222.07,396.30 223.08,396.30 224.08,396.30 225.09,396.30 226.09,396.30 227.10,396.30 228.10,396.30 229.11,396.30 230.11,396.30 231.12,396.30 232.12,396.30 233.13,396.30 234.13,396.30 235.14,396.30 236.14,396.30 237.15,396.30 238.15,396.30 239.16,396.30 240.16,396.30 241.17,396.30 242.17,396.30 243.18,396.30 244.18,396.30 245.19,396.30 246.19,396.30 247.20,396.30 248.20,396.30 249.21,396.30 250.21,396.30 251.22,396.30 252.22,396.30 253.23,396.30 254.23,396.30 255.24,396.30 256.24,396.30 257.25,396.30 258.25,396.30 259.26,396.30 260.26,396.30 261.27,396.30 262.27,396.30 263.28,396.30 264.28,396.30 265.29,396.30 266.29,396.30 267.30,396.30 268.30,396.30 269.31,396.30 270.31,396.30 271.32,396.30 272.32,396.30 273.33,396.30 274.33,396.30 275.34,396.30 276.34,396.30 277.34,396.30 278.35,396.30 279.35,396.30 280.36,396.30 281.36,396.30 282.37,396.30 283.37,396.30 284.38,396.30 285.38,396.30 286.39,396.30 287.39,396.30 288.40,396.30 289.40,396.30 290.41,396.30 291.41,396.30 292.42,396.30 293.42,396.30 294.43,396.30 295.43,396.30 296.44,396.30 297.44,396.30 298.45,396.30 299.45,396.30 300.46,396.30 301.46,396.30 302.47,396.30 303.47,396.30 304.48,396.30" fill="none" stroke="#5a5a5a" stroke-width="1.35" />
<polyline points="104.50,396.30 105.49,396.20 106.49,396.11 107.48,396.01 108.47,395.92 109.46,395.82 110.46,395.73 111.45,395.63 112.44,395.54 113.43,395.44 114.43,395.35 115.42,395.25 116.41,395.16 117.40,395.07 118.40,394.97 119.39,394.88 120.38,394.79 121.38,394.69 122.37,394.60 123.36,394.51 124.35,394.42 125.35,394.32 126.34,394.23 127.33,394.14 128.32,394.05 129.32,393.96 130.31,393.87 131.30,393.78 132.29,393.69 133.29,393.59 134.28,393.50 135.27,393.41 136.27,393.32 137.26,393.23 138.25,393.14 139.24,393.05 140.24,392.97 141.23,392.88 142.22,392.79 143.21,392.70 144.21,392.61 145.20,392.52 146.19,392.43 147.18,392.35 148.18,392.26 149.17,392.17 150.16,392.08 151.15,392.00 152.15,391.91 153.14,391.82 154.13,391.73 155.13,391.65 156.12,391.56 157.11,391.47 158.10,391.39 159.10,391.30 160.09,391.22 161.08,391.13 162.07,391.05 163.07,390.96 164.06,390.88 165.05,390.79 166.04,390.71 167.04,390.62 168.03,390.54 169.02,390.45 170.02,390.37 171.01,390.28 172.00,390.20 172.99,390.12 173.99,390.03 174.98,389.95 175.97,389.87 176.96,389.79 177.96,389.70 178.95,389.62 179.94,389.54 180.93,389.46 181.93,389.37 182.92,389.29 183.91,389.21 184.91,389.13 185.90,389.05 186.89,388.96 187.88,388.88 188.88,388.80 189.87,388.72 190.86,388.64 191.85,388.56 192.85,388.48 193.84,388.40 194.83,388.32 195.82,388.24 196.82,388.16 197.81,388.08 198.80,388.00 199.80,387.92 200.79,387.84 201.78,387.76 202.77,387.69 203.77,387.61 204.76,387.53 205.75,387.45 206.74,387.37 207.74,387.29 208.73,387.22 209.72,387.14 210.71,387.06 211.71,386.98 212.70,386.91 213.69,386.83 214.68,386.75 215.68,386.67 216.67,386.60 217.66,386.52 218.66,386.44 219.65,386.37 220.64,386.29 221.63,386.22 222.63,386.14 223.62,386.06 224.61,385.99 225.60,385.91 226.60,385.84 227.59,385.76 228.58,385.69 229.57,385.61 230.57,385.54 231.56,385.46 232.55,385.39 233.55,385.32 234.54,385.24 235.53,385.17 236.52,385.09 237.52,385.02 238.51,384.95 239.50,384.87 240.49,384.80 241.49,384.73 242.48,384.65 243.47,384.58 244.46,384.51 245.46,384.43 246.45,384.36 247.44,384.29 248.44,384.22 249.43,384.15 250.42,384.07 251.41,384.00 252.41,383.93 253.40,383.86 254.39,383.79 255.38,383.72 256.38,383.64 257.37,383.57 258.36,383.50 259.35,383.43 260.35,383.36 261.34,383.29 262.33,383.22 263.33,383.15 264.32,383.08 265.31,383.01 266.30,382.94 267.30,382.87 268.29,382.80 269.28,382.73 270.27,382.66 271.27,382.59 272.26,382.52 273.25,382.45 274.24,382.38 275.24,382.32 276.23,382.25 277.22,382.18 278.21,382.11 279.21,382.04 280.20,381.97 281.19,381.90 282.19,381.84 283.18,381.77 284.17,381.70 285.16,381.63 286.16,381.57 287.15,381.50 288.14,381.43 289.13,381.36 290.13,381.30 291.12,381.23 292.11,381.16 293.10,381.10 294.10,381.03 295.09,380.96 296.08,380.90 297.08,380.83 298.07,380.77 299.06,380.70 300.05,380.63 301.05,380.57 302.04,380.50" fill="none" stroke="#ff0000" stroke-width="1.35" stroke-dasharray="3.6,2.2"/>
<polyline points="104.50,396.30 105.49,395.95 106.49,395.60 107.48,395.26 108.47,394.92 109.46,394.59 110.46,394.26 111.45,393.94 112.44,393.62 113.43,393.30 114.43,392.99 115.42,392.68 116.41,392.38 117.40,392.08 118.40,391.78 119.39,391.49 120.38,391.20 121.38,390.91 122.37,390.63 123.36,390.35 124.35,390.07 125.35,389.80 126.34,389.53 127.33,389.27 128.32,389.00 129.32,388.74 130.31,388.49 131.30,388.23 132.29,387.98 133.29,387.73 134.28,387.49 135.27,387.24 136.27,387.00 137.26,386.77 138.25,386.53 139.24,386.30 140.24,386.07 141.23,385.84 142.22,385.62 143.21,385.40 144.21,385.18 145.20,384.96 146.19,384.74 147.18,384.53 148.18,384.32 149.17,384.11 150.16,383.90 151.15,383.70 152.15,383.50 153.14,383.30 154.13,383.10 155.13,382.90 156.12,382.71 157.11,382.52 158.10,382.33 159.10,382.14 160.09,381.95 161.08,381.77 162.07,381.58 163.07,381.40 164.06,381.22 165.05,381.04 166.04,380.87 167.04,380.69 168.03,380.52 169.02,380.35 170.02,380.18 171.01,380.01 172.00,379.85 172.99,379.68 173.99,379.52 174.98,379.36 175.97,379.20 176.96,379.04 177.96,378.88 178.95,378.72 179.94,378.57 180.93,378.42 181.93,378.26 182.92,378.11 183.91,377.96 184.91,377.82 185.90,377.67 186.89,377.52 187.88,377.38 188.88,377.24 189.87,377.10 190.86,376.96 191.85,376.82 192.85,376.68 193.84,376.54 194.83,376.41 195.82,376.27 196.82,376.14 197.81,376.00 198.80,375.87 199.80,375.74 200.79,375.61 201.78,375.49 202.77,375.36 203.77,375.23 204.76,375.11 205.75,374.98 206.74,374.86 207.74,374.74 208.73,374.62 209.72,374.50 210.71,374.38 211.71,374.26 212.70,374.14 213.69,374.03 214.68,373.91 215.68,373.80 216.67,373.68 217.66,373.57 218.66,373.46 219.65,373.35 220.64,373.24 221.63,373.13 222.63,373.02 223.62,372.91 224.61,372.80 225.60,372.70 226.60,372.59 227.59,372.49 228.58,372.38 229.57,372.28 230.57,372.18 231.56,372.08 232.55,371.97 233.55,371.87 234.54,371.77 235.53,371.68 236.52,371.58 237.52,371.48 238.51,371.38 239.50,371.29 240.49,371.19 241.49,371.10 242.48,371.00 243.47,370.91 244.46,370.82 245.46,370.73 246.45,370.63 247.44,370.54 248.44,370.45 249.43,370.36 250.42,370.28 251.41,370.19 252.41,370.10 253.40,370.01 254.39,369.93 255.38,369.84 256.38,369.75 257.37,369.67 258.36,369.58 259.35,369.50 260.35,369.42 261.34,369.34 262.33,369.25 263.33,369.17 264.32,369.09 265.31,369.01 266.30,368.93 267.30,368.85 268.29,368.77 269.28,368.69 270.27,368.62 271.27,368.54 272.26,368.46 273.25,368.38 274.24,368.31 275.24,368.23 276.23,368.16 277.22,368.08 278.21,368.01 279.21,367.94 280.20,367.86 281.19,367.79 282.19,367.72 283.18,367.64 284.17,367.57 285.16,367.50 286.16,367.43 287.15,367.36 288.14,367.29 289.13,367.22 290.13,367.15 291.12,367.09 292.11,367.02 293.10,366.95 294.10,366.88 295.09,366.82 296.08,366.75 297.08,366.68 298.07,366.62 299.06,366.55 300.05,366.49 301.05,366.42 302.04,366.36" fill="none" stroke="#0033ff" stroke-width="1.35" stroke-dasharray="3.6,2.2"/>
<polyline points="104.50,396.30 105.48,394.41 106.46,392.55 107.44,390.72 108.42,388.92 109.40,387.15 110.38,385.40 111.36,383.69 112.34,382.00 113.32,380.33 114.30,378.69 115.28,377.08 116.26,375.49 117.25,373.92 118.23,372.38 119.21,370.86 120.19,369.36 121.17,367.89 122.15,366.43 123.13,365.00 124.11,363.58 125.09,362.19 126.07,360.81 127.05,359.46 128.03,358.12 129.01,356.80 129.99,355.50 130.97,354.22 131.95,352.95 132.93,351.70 133.91,350.47 134.89,349.25 135.87,348.05 136.85,346.87 137.83,345.70 138.81,344.54 139.79,343.40 140.77,342.28 141.76,341.17 142.74,340.07 143.72,338.98 144.70,337.91 145.68,336.86 146.66,335.81 147.64,334.78 148.62,333.76 149.60,332.75 150.58,331.76 151.56,330.77 152.54,329.80 153.52,328.84 154.50,327.89 155.48,326.95 156.46,326.03 157.44,325.11 158.42,324.20 159.40,323.31 160.38,322.42 161.36,321.54 162.34,320.68 163.32,319.82 164.30,318.97 165.28,318.13 166.27,317.30 167.25,316.48 168.23,315.67 169.21,314.87 170.19,314.07 171.17,313.29 172.15,312.51 173.13,311.74 174.11,310.98 175.09,310.22 176.07,309.48 177.05,308.74 178.03,308.01 179.01,307.29 179.99,306.57 180.97,305.86 181.95,305.16 182.93,304.46 183.91,303.78 184.89,303.10 185.87,302.42 186.85,301.75 187.83,301.09 188.81,300.44 189.79,299.79 190.78,299.15 191.76,298.51 192.74,297.88 193.72,297.25 194.70,296.64 195.68,296.02 196.66,295.42 197.64,294.81 198.62,294.22 199.60,293.63 200.58,293.04 201.56,292.46 202.54,291.89 203.52,291.32 204.50,290.75 205.48,290.20 206.46,289.64 207.44,289.09 208.42,288.55 209.40,288.01 210.38,287.47 211.36,286.94 212.34,286.42 213.32,285.89 214.31,285.38 215.29,284.87 216.27,284.36 217.25,283.85 218.23,283.35 219.21,282.86 220.19,282.37 221.17,281.88 222.15,281.40 223.13,280.92 224.11,280.44 225.09,279.97 226.07,279.50 227.05,279.04 228.03,278.58 229.01,278.13 229.99,277.67 230.97,277.22 231.95,276.78 232.93,276.34 233.91,275.90 234.89,275.46 235.87,275.03 236.85,274.60 237.83,274.18 238.82,273.76 239.80,273.34 240.78,272.93 241.76,272.51 242.74,272.11 243.72,271.70 244.70,271.30 245.68,270.90 246.66,270.50 247.64,270.11 248.62,269.72 249.60,269.33 250.58,268.95 251.56,268.56 252.54,268.18 253.52,267.81 254.50,267.43 255.48,267.06 256.46,266.70 257.44,266.33 258.42,265.97 259.40,265.61 260.38,265.25 261.36,264.89 262.34,264.54 263.33,264.19 264.31,263.84 265.29,263.50 266.27,263.16 267.25,262.82 268.23,262.48 269.21,262.14 270.19,261.81 271.17,261.48 272.15,261.15 273.13,260.82 274.11,260.50 275.09,260.17 276.07,259.85 277.05,259.54 278.03,259.22 279.01,258.91 279.99,258.60 280.97,258.29 281.95,257.98 282.93,257.67 283.91,257.37 284.89,257.07 285.87,256.77 286.85,256.47 287.84,256.18 288.82,255.88 289.80,255.59 290.78,255.30 291.76,255.01 292.74,254.73 293.72,254.44 294.70,254.16 295.68,253.88 296.66,253.60 297.64,253.32 298.62,253.05 299.60,252.77" fill="none" stroke="#0033ff" stroke-width="1.35" />
</g>
<rect x="104.50" y="243.50" width="197.70" height="152.80" fill="none" stroke="#111" stroke-width="1.2"/>
<circle cx="109.38" cy="388.15" r="2.4" fill="#fff" stroke="#0033ff" stroke-width="1.2"/>
<circle cx="109.38" cy="386.75" r="1.9" fill="#fff" stroke="none" stroke-width="1"/>
<circle cx="109.38" cy="389.75" r="1.9" fill="#fff" stroke="none" stroke-width="1"/>
<circle cx="109.38" cy="386.75" r="1.2" fill="#000" stroke="none" stroke-width="1"/>
<circle cx="109.38" cy="389.75" r="1.2" fill="#000" stroke="none" stroke-width="1"/>
<circle cx="111.82" cy="384.42" r="2.4" fill="#fff" stroke="#0033ff" stroke-width="1.2"/>
<circle cx="111.82" cy="383.02" r="1.9" fill="#fff" stroke="none" stroke-width="1"/>
<circle cx="111.82" cy="386.02" r="1.9" fill="#fff" stroke="none" stroke-width="1"/>
<circle cx="111.82" cy="383.02" r="1.2" fill="#000" stroke="none" stroke-width="1"/>
<circle cx="111.82" cy="386.02" r="1.2" fill="#000" stroke="none" stroke-width="1"/>
<circle cx="114.25" cy="380.34" r="2.4" fill="#fff" stroke="#0033ff" stroke-width="1.2"/>
<circle cx="114.25" cy="378.94" r="1.9" fill="#fff" stroke="none" stroke-width="1"/>
<circle cx="114.25" cy="381.94" r="1.9" fill="#fff" stroke="none" stroke-width="1"/>
<circle cx="114.25" cy="378.94" r="1.2" fill="#000" stroke="none" stroke-width="1"/>
<circle cx="114.25" cy="381.94" r="1.2" fill="#000" stroke="none" stroke-width="1"/>
<circle cx="116.69" cy="377.28" r="2.4" fill="#fff" stroke="#0033ff" stroke-width="1.2"/>
<circle cx="116.69" cy="375.88" r="1.9" fill="#fff" stroke="none" stroke-width="1"/>
<circle cx="116.69" cy="378.88" r="1.9" fill="#fff" stroke="none" stroke-width="1"/>
<circle cx="116.69" cy="375.88" r="1.2" fill="#000" stroke="none" stroke-width="1"/>
<circle cx="116.69" cy="378.88" r="1.2" fill="#000" stroke="none" stroke-width="1"/>
<circle cx="128.89" cy="359.63" r="2.4" fill="#fff" stroke="#0033ff" stroke-width="1.2"/>
<circle cx="128.89" cy="358.23" r="1.9" fill="#fff" stroke="none" stroke-width="1"/>
<circle cx="128.89" cy="361.23" r="1.9" fill="#fff" stroke="none" stroke-width="1"/>
<circle cx="128.89" cy="358.23" r="1.2" fill="#000" stroke="none" stroke-width="1"/>
<circle cx="128.89" cy="361.23" r="1.2" fill="#000" stroke="none" stroke-width="1"/>
<circle cx="153.28" cy="329.75" r="2.4" fill="#fff" stroke="#0033ff" stroke-width="1.2"/>
<circle cx="153.28" cy="328.35" r="1.9" fill="#fff" stroke="none" stroke-width="1"/>
<circle cx="153.28" cy="331.35" r="1.9" fill="#fff" stroke="none" stroke-width="1"/>
<circle cx="153.28" cy="328.35" r="1.2" fill="#000" stroke="none" stroke-width="1"/>
<circle cx="153.28" cy="331.35" r="1.2" fill="#000" stroke="none" stroke-width="1"/>
<circle cx="177.66" cy="306.32" r="2.4" fill="#fff" stroke="#0033ff" stroke-width="1.2"/>
<circle cx="177.66" cy="304.92" r="1.9" fill="#fff" stroke="none" stroke-width="1"/>
<circle cx="177.66" cy="307.92" r="1.9" fill="#fff" stroke="none" stroke-width="1"/>
<circle cx="177.66" cy="304.92" r="1.2" fill="#000" stroke="none" stroke-width="1"/>
<circle cx="177.66" cy="307.92" r="1.2" fill="#000" stroke="none" stroke-width="1"/>
<circle cx="202.05" cy="284.25" r="2.4" fill="#fff" stroke="#0033ff" stroke-width="1.2"/>
<circle cx="202.05" cy="282.85" r="1.9" fill="#fff" stroke="none" stroke-width="1"/>
<circle cx="202.05" cy="285.85" r="1.9" fill="#fff" stroke="none" stroke-width="1"/>
<circle cx="202.05" cy="282.85" r="1.2" fill="#000" stroke="none" stroke-width="1"/>
<circle cx="202.05" cy="285.85" r="1.2" fill="#000" stroke="none" stroke-width="1"/>
<circle cx="250.83" cy="267.95" r="2.4" fill="#fff" stroke="#0033ff" stroke-width="1.2"/>
<circle cx="250.83" cy="263.75" r="1.9" fill="#fff" stroke="none" stroke-width="1"/>
<circle cx="250.83" cy="268.25" r="1.9" fill="#fff" stroke="none" stroke-width="1"/>
<circle cx="250.83" cy="271.65" r="1.9" fill="#fff" stroke="none" stroke-width="1"/>
<circle cx="250.83" cy="263.75" r="1.2" fill="#000" stroke="none" stroke-width="1"/>
<circle cx="250.83" cy="268.25" r="1.2" fill="#000" stroke="none" stroke-width="1"/>
<circle cx="250.83" cy="271.65" r="1.2" fill="#000" stroke="none" stroke-width="1"/>
<circle cx="299.60" cy="258.44" r="2.4" fill="#fff" stroke="#0033ff" stroke-width="1.2"/>
<circle cx="299.60" cy="253.64" r="1.9" fill="#fff" stroke="none" stroke-width="1"/>
<circle cx="299.60" cy="257.94" r="1.9" fill="#fff" stroke="none" stroke-width="1"/>
<circle cx="299.60" cy="262.64" r="1.9" fill="#fff" stroke="none" stroke-width="1"/>
<circle cx="299.60" cy="253.64" r="1.2" fill="#000" stroke="none" stroke-width="1"/>
<circle cx="299.60" cy="257.94" r="1.2" fill="#000" stroke="none" stroke-width="1"/>
<circle cx="299.60" cy="262.64" r="1.2" fill="#000" stroke="none" stroke-width="1"/>
<circle cx="109.38" cy="394.86" r="2.4" fill="#fff" stroke="#0033ff" stroke-width="1.2"/>
<circle cx="109.38" cy="393.56" r="1.9" fill="#fff" stroke="none" stroke-width="1"/>
<circle cx="109.38" cy="396.46" r="1.9" fill="#fff" stroke="none" stroke-width="1"/>
<circle cx="109.38" cy="393.56" r="1.2" fill="#000" stroke="none" stroke-width="1"/>
<circle cx="109.38" cy="396.46" r="1.2" fill="#000" stroke="none" stroke-width="1"/>
<circle cx="111.82" cy="394.38" r="2.4" fill="#fff" stroke="#0033ff" stroke-width="1.2"/>
<circle cx="111.82" cy="393.08" r="1.9" fill="#fff" stroke="none" stroke-width="1"/>
<circle cx="111.82" cy="395.98" r="1.9" fill="#fff" stroke="none" stroke-width="1"/>
<circle cx="111.82" cy="393.08" r="1.2" fill="#000" stroke="none" stroke-width="1"/>
<circle cx="111.82" cy="395.98" r="1.2" fill="#000" stroke="none" stroke-width="1"/>
<circle cx="114.25" cy="393.72" r="2.4" fill="#fff" stroke="#0033ff" stroke-width="1.2"/>
<circle cx="114.25" cy="392.42" r="1.9" fill="#fff" stroke="none" stroke-width="1"/>
<circle cx="114.25" cy="395.32" r="1.9" fill="#fff" stroke="none" stroke-width="1"/>
<circle cx="114.25" cy="392.42" r="1.2" fill="#000" stroke="none" stroke-width="1"/>
<circle cx="114.25" cy="395.32" r="1.2" fill="#000" stroke="none" stroke-width="1"/>
<circle cx="116.69" cy="393.11" r="2.4" fill="#fff" stroke="#0033ff" stroke-width="1.2"/>
<circle cx="116.69" cy="391.81" r="1.9" fill="#fff" stroke="none" stroke-width="1"/>
<circle cx="116.69" cy="394.71" r="1.9" fill="#fff" stroke="none" stroke-width="1"/>
<circle cx="116.69" cy="391.81" r="1.2" fill="#000" stroke="none" stroke-width="1"/>
<circle cx="116.69" cy="394.71" r="1.2" fill="#000" stroke="none" stroke-width="1"/>
<circle cx="128.89" cy="389.68" r="2.4" fill="#fff" stroke="#0033ff" stroke-width="1.2"/>
<circle cx="128.89" cy="388.38" r="1.9" fill="#fff" stroke="none" stroke-width="1"/>
<circle cx="128.89" cy="391.28" r="1.9" fill="#fff" stroke="none" stroke-width="1"/>
<circle cx="128.89" cy="388.38" r="1.2" fill="#000" stroke="none" stroke-width="1"/>
<circle cx="128.89" cy="391.28" r="1.2" fill="#000" stroke="none" stroke-width="1"/>
<circle cx="153.28" cy="383.91" r="2.4" fill="#fff" stroke="#0033ff" stroke-width="1.2"/>
<circle cx="153.28" cy="382.61" r="1.9" fill="#fff" stroke="none" stroke-width="1"/>
<circle cx="153.28" cy="385.51" r="1.9" fill="#fff" stroke="none" stroke-width="1"/>
<circle cx="153.28" cy="382.61" r="1.2" fill="#000" stroke="none" stroke-width="1"/>
<circle cx="153.28" cy="385.51" r="1.2" fill="#000" stroke="none" stroke-width="1"/>
<circle cx="177.66" cy="379.32" r="2.4" fill="#fff" stroke="#0033ff" stroke-width="1.2"/>
<circle cx="177.66" cy="378.02" r="1.9" fill="#fff" stroke="none" stroke-width="1"/>
<circle cx="177.66" cy="380.92" r="1.9" fill="#fff" stroke="none" stroke-width="1"/>
<circle cx="177.66" cy="378.02" r="1.2" fill="#000" stroke="none" stroke-width="1"/>
<circle cx="177.66" cy="380.92" r="1.2" fill="#000" stroke="none" stroke-width="1"/>
<circle cx="202.05" cy="373.55" r="2.4" fill="#fff" stroke="#0033ff" stroke-width="1.2"/>
<circle cx="202.05" cy="372.25" r="1.9" fill="#fff" stroke="none" stroke-width="1"/>
<circle cx="202.05" cy="375.15" r="1.9" fill="#fff" stroke="none" stroke-width="1"/>
<circle cx="202.05" cy="372.25" r="1.2" fill="#000" stroke="none" stroke-width="1"/>
<circle cx="202.05" cy="375.15" r="1.2" fill="#000" stroke="none" stroke-width="1"/>
<circle cx="250.83" cy="369.64" r="2.4" fill="#fff" stroke="#0033ff" stroke-width="1.2"/>
<circle cx="250.83" cy="368.34" r="1.9" fill="#fff" stroke="none" stroke-width="1"/>
<circle cx="250.83" cy="371.24" r="1.9" fill="#fff" stroke="none" stroke-width="1"/>
<circle cx="250.83" cy="368.34" r="1.2" fill="#000" stroke="none" stroke-width="1"/>
<circle cx="250.83" cy="371.24" r="1.2" fill="#000" stroke="none" stroke-width="1"/>
<circle cx="299.60" cy="367.27" r="2.4" fill="#fff" stroke="#0033ff" stroke-width="1.2"/>
<circle cx="299.60" cy="365.97" r="1.9" fill="#fff" stroke="none" stroke-width="1"/>
<circle cx="299.60" cy="368.87" r="1.9" fill="#fff" stroke="none" stroke-width="1"/>
<circle cx="299.60" cy="365.97" r="1.2" fill="#000" stroke="none" stroke-width="1"/>
<circle cx="299.60" cy="368.87" r="1.2" fill="#000" stroke="none" stroke-width="1"/>
<circle cx="109.38" cy="395.88" r="2.4" fill="#fff" stroke="#ff0000" stroke-width="1.2"/>
<circle cx="109.38" cy="394.58" r="1.9" fill="#fff" stroke="none" stroke-width="1"/>
<circle cx="109.38" cy="397.48" r="1.9" fill="#fff" stroke="none" stroke-width="1"/>
<circle cx="109.38" cy="394.58" r="1.2" fill="#000" stroke="none" stroke-width="1"/>
<circle cx="109.38" cy="397.48" r="1.2" fill="#000" stroke="none" stroke-width="1"/>
<circle cx="111.82" cy="395.71" r="2.4" fill="#fff" stroke="#ff0000" stroke-width="1.2"/>
<circle cx="111.82" cy="394.41" r="1.9" fill="#fff" stroke="none" stroke-width="1"/>
<circle cx="111.82" cy="397.31" r="1.9" fill="#fff" stroke="none" stroke-width="1"/>
<circle cx="111.82" cy="394.41" r="1.2" fill="#000" stroke="none" stroke-width="1"/>
<circle cx="111.82" cy="397.31" r="1.2" fill="#000" stroke="none" stroke-width="1"/>
<circle cx="114.25" cy="395.37" r="2.4" fill="#fff" stroke="#ff0000" stroke-width="1.2"/>
<circle cx="114.25" cy="394.07" r="1.9" fill="#fff" stroke="none" stroke-width="1"/>
<circle cx="114.25" cy="396.97" r="1.9" fill="#fff" stroke="none" stroke-width="1"/>
<circle cx="114.25" cy="394.07" r="1.2" fill="#000" stroke="none" stroke-width="1"/>
<circle cx="114.25" cy="396.97" r="1.2" fill="#000" stroke="none" stroke-width="1"/>
<circle cx="116.69" cy="395.20" r="2.4" fill="#fff" stroke="#ff0000" stroke-width="1.2"/>
<circle cx="116.69" cy="393.90" r="1.9" fill="#fff" stroke="none" stroke-width="1"/>
<circle cx="116.69" cy="396.80" r="1.9" fill="#fff" stroke="none" stroke-width="1"/>
<circle cx="116.69" cy="393.90" r="1.2" fill="#000" stroke="none" stroke-width="1"/>
<circle cx="116.69" cy="396.80" r="1.2" fill="#000" stroke="none" stroke-width="1"/>
<circle cx="128.89" cy="394.26" r="2.4" fill="#fff" stroke="#ff0000" stroke-width="1.2"/>
<circle cx="128.89" cy="392.96" r="1.9" fill="#fff" stroke="none" stroke-width="1"/>
<circle cx="128.89" cy="395.86" r="1.9" fill="#fff" stroke="none" stroke-width="1"/>
<circle cx="128.89" cy="392.96" r="1.2" fill="#000" stroke="none" stroke-width="1"/>
<circle cx="128.89" cy="395.86" r="1.2" fill="#000" stroke="none" stroke-width="1"/>
<circle cx="153.28" cy="391.72" r="2.4" fill="#fff" stroke="#ff0000" stroke-width="1.2"/>
<circle cx="153.28" cy="390.42" r="1.9" fill="#fff" stroke="none" stroke-width="1"/>
<circle cx="153.28" cy="393.32" r="1.9" fill="#fff" stroke="none" stroke-width="1"/>
<circle cx="153.28" cy="390.42" r="1.2" fill="#000" stroke="none" stroke-width="1"/>
<circle cx="153.28" cy="393.32" r="1.2" fill="#000" stroke="none" stroke-width="1"/>
<circle cx="177.66" cy="389.68" r="2.4" fill="#fff" stroke="#ff0000" stroke-width="1.2"/>
<circle cx="177.66" cy="388.38" r="1.9" fill="#fff" stroke="none" stroke-width="1"/>
<circle cx="177.66" cy="391.28" r="1.9" fill="#fff" stroke="none" stroke-width="1"/>
<circle cx="177.66" cy="388.38" r="1.2" fill="#000" stroke="none" stroke-width="1"/>
<circle cx="177.66" cy="391.28" r="1.2" fill="#000" stroke="none" stroke-width="1"/>
<circle cx="202.05" cy="387.64" r="2.4" fill="#fff" stroke="#ff0000" stroke-width="1.2"/>
<circle cx="202.05" cy="386.34" r="1.9" fill="#fff" stroke="none" stroke-width="1"/>
<circle cx="202.05" cy="389.24" r="1.9" fill="#fff" stroke="none" stroke-width="1"/>
<circle cx="202.05" cy="386.34" r="1.2" fill="#000" stroke="none" stroke-width="1"/>
<circle cx="202.05" cy="389.24" r="1.2" fill="#000" stroke="none" stroke-width="1"/>
<circle cx="250.83" cy="384.08" r="2.4" fill="#fff" stroke="#ff0000" stroke-width="1.2"/>
<circle cx="250.83" cy="382.78" r="1.9" fill="#fff" stroke="none" stroke-width="1"/>
<circle cx="250.83" cy="385.68" r="1.9" fill="#fff" stroke="none" stroke-width="1"/>
<circle cx="250.83" cy="382.78" r="1.2" fill="#000" stroke="none" stroke-width="1"/>
<circle cx="250.83" cy="385.68" r="1.2" fill="#000" stroke="none" stroke-width="1"/>
<circle cx="299.60" cy="380.51" r="2.4" fill="#fff" stroke="#ff0000" stroke-width="1.2"/>
<circle cx="299.60" cy="379.21" r="1.9" fill="#fff" stroke="none" stroke-width="1"/>
<circle cx="299.60" cy="382.11" r="1.9" fill="#fff" stroke="none" stroke-width="1"/>
<circle cx="299.60" cy="379.21" r="1.2" fill="#000" stroke="none" stroke-width="1"/>
<circle cx="299.60" cy="382.11" r="1.2" fill="#000" stroke="none" stroke-width="1"/>
<circle cx="109.38" cy="396.30" r="2.4" fill="#fff" stroke="#333" stroke-width="1.2"/>
<circle cx="109.38" cy="396.30" r="1.9" fill="#fff" stroke="none" stroke-width="1"/>
<circle cx="109.38" cy="398.60" r="1.9" fill="#fff" stroke="none" stroke-width="1"/>
<circle cx="109.38" cy="396.30" r="1.2" fill="#000" stroke="none" stroke-width="1"/>
<circle cx="109.38" cy="398.60" r="1.2" fill="#000" stroke="none" stroke-width="1"/>
<circle cx="111.82" cy="396.30" r="2.4" fill="#fff" stroke="#333" stroke-width="1.2"/>
<circle cx="111.82" cy="396.30" r="1.9" fill="#fff" stroke="none" stroke-width="1"/>
<circle cx="111.82" cy="398.60" r="1.9" fill="#fff" stroke="none" stroke-width="1"/>
<circle cx="111.82" cy="396.30" r="1.2" fill="#000" stroke="none" stroke-width="1"/>
<circle cx="111.82" cy="398.60" r="1.2" fill="#000" stroke="none" stroke-width="1"/>
<circle cx="114.25" cy="396.30" r="2.4" fill="#fff" stroke="#333" stroke-width="1.2"/>
<circle cx="114.25" cy="396.30" r="1.9" fill="#fff" stroke="none" stroke-width="1"/>
<circle cx="114.25" cy="398.60" r="1.9" fill="#fff" stroke="none" stroke-width="1"/>
<circle cx="114.25" cy="396.30" r="1.2" fill="#000" stroke="none" stroke-width="1"/>
<circle cx="114.25" cy="398.60" r="1.2" fill="#000" stroke="none" stroke-width="1"/>
<circle cx="116.69" cy="396.30" r="2.4" fill="#fff" stroke="#333" stroke-width="1.2"/>
<circle cx="116.69" cy="396.30" r="1.9" fill="#fff" stroke="none" stroke-width="1"/>
<circle cx="116.69" cy="398.60" r="1.9" fill="#fff" stroke="none" stroke-width="1"/>
<circle cx="116.69" cy="396.30" r="1.2" fill="#000" stroke="none" stroke-width="1"/>
<circle cx="116.69" cy="398.60" r="1.2" fill="#000" stroke="none" stroke-width="1"/>
<circle cx="128.89" cy="396.30" r="2.4" fill="#fff" stroke="#333" stroke-width="1.2"/>
<circle cx="128.89" cy="396.30" r="1.9" fill="#fff" stroke="none" stroke-width="1"/>
<circle cx="128.89" cy="398.60" r="1.9" fill="#fff" stroke="none" stroke-width="1"/>
<circle cx="128.89" cy="396.30" r="1.2" fill="#000" stroke="none" stroke-width="1"/>
<circle cx="128.89" cy="398.60" r="1.2" fill="#000" stroke="none" stroke-width="1"/>
<circle cx="153.28" cy="396.30" r="2.4" fill="#fff" stroke="#333" stroke-width="1.2"/>
<circle cx="153.28" cy="396.30" r="1.9" fill="#fff" stroke="none" stroke-width="1"/>
<circle cx="153.28" cy="398.60" r="1.9" fill="#fff" stroke="none" stroke-width="1"/>
<circle cx="153.28" cy="396.30" r="1.2" fill="#000" stroke="none" stroke-width="1"/>
<circle cx="153.28" cy="398.60" r="1.2" fill="#000" stroke="none" stroke-width="1"/>
<circle cx="177.66" cy="396.30" r="2.4" fill="#fff" stroke="#333" stroke-width="1.2"/>
<circle cx="177.66" cy="396.30" r="1.9" fill="#fff" stroke="none" stroke-width="1"/>
<circle cx="177.66" cy="398.60" r="1.9" fill="#fff" stroke="none" stroke-width="1"/>
<circle cx="177.66" cy="396.30" r="1.2" fill="#000" stroke="none" stroke-width="1"/>
<circle cx="177.66" cy="398.60" r="1.2" fill="#000" stroke="none" stroke-width="1"/>
<circle cx="202.05" cy="396.30" r="2.4" fill="#fff" stroke="#333" stroke-width="1.2"/>
<circle cx="202.05" cy="396.30" r="1.9" fill="#fff" stroke="none" stroke-width="1"/>
<circle cx="202.05" cy="398.60" r="1.9" fill="#fff" stroke="none" stroke-width="1"/>
<circle cx="202.05" cy="396.30" r="1.2" fill="#000" stroke="none" stroke-width="1"/>
<circle cx="202.05" cy="398.60" r="1.2" fill="#000" stroke="none" stroke-width="1"/>
<circle cx="250.83" cy="396.30" r="2.4" fill="#fff" stroke="#333" stroke-width="1.2"/>
<circle cx="250.83" cy="396.30" r="1.9" fill="#fff" stroke="none" stroke-width="1"/>
<circle cx="250.83" cy="398.60" r="1.9" fill="#fff" stroke="none" stroke-width="1"/>
<circle cx="250.83" cy="396.30" r="1.2" fill="#000" stroke="none" stroke-width="1"/>
<circle cx="250.83" cy="398.60" r="1.2" fill="#000" stroke="none" stroke-width="1"/>
<line x1="101.20" y1="396.30" x2="104.50" y2="396.30" stroke="#111" stroke-width="1.1" />
<text x="94.90" y="400.50" font-size="11.0" text-anchor="end" font-weight="normal" fill="#111" >0</text>
<line x1="101.20" y1="345.37" x2="104.50" y2="345.37" stroke="#111" stroke-width="1.1" />
<text x="94.90" y="349.57" font-size="11.0" text-anchor="end" font-weight="normal" fill="#111" >3.0</text>
<line x1="101.20" y1="294.43" x2="104.50" y2="294.43" stroke="#111" stroke-width="1.1" />
<text x="94.90" y="298.63" font-size="11.0" text-anchor="end" font-weight="normal" fill="#111" >6.0</text>
<line x1="101.20" y1="243.50" x2="104.50" y2="243.50" stroke="#111" stroke-width="1.1" />
<text x="94.90" y="247.70" font-size="11.0" text-anchor="end" font-weight="normal" fill="#111" >9.0</text>
<line x1="104.50" y1="396.30" x2="104.50" y2="399.50" stroke="#111" stroke-width="1.1" />
<text x="104.50" y="412.00" font-size="11.0" text-anchor="middle" font-weight="normal" fill="#111" >0</text>
<line x1="153.28" y1="396.30" x2="153.28" y2="399.50" stroke="#111" stroke-width="1.1" />
<text x="153.28" y="412.00" font-size="11.0" text-anchor="middle" font-weight="normal" fill="#111" >2</text>
<line x1="202.05" y1="396.30" x2="202.05" y2="399.50" stroke="#111" stroke-width="1.1" />
<text x="202.05" y="412.00" font-size="11.0" text-anchor="middle" font-weight="normal" fill="#111" >4</text>
<line x1="250.83" y1="396.30" x2="250.83" y2="399.50" stroke="#111" stroke-width="1.1" />
<text x="250.83" y="412.00" font-size="11.0" text-anchor="middle" font-weight="normal" fill="#111" >6</text>
<line x1="299.60" y1="396.30" x2="299.60" y2="399.50" stroke="#111" stroke-width="1.1" />
<text x="299.60" y="412.00" font-size="11.0" text-anchor="middle" font-weight="normal" fill="#111" >8</text>
<text x="203.6" y="425.6" font-size="11.0" font-weight="bold" text-anchor="middle" fill="#111">[pNA] (mM)</text>
<text transform="translate(74.9,319.5) rotate(-90)" x="0" y="0" font-size="11.0" font-weight="bold" text-anchor="middle" fill="#111"><tspan font-style="italic">V</tspan><tspan font-size="7.5" dy="2">0</tspan><tspan dy="-2"> (μM s</tspan><tspan font-size="6.8" dy="-4.3">−1</tspan><tspan dy="4.3">)</tspan></text>
<line x1="107.00" y1="253.90" x2="130.00" y2="253.90" stroke="#5a5a5a" stroke-width="1.35" />
<circle cx="116.10" cy="253.90" r="3.1" fill="#5a5a5a" stroke="none" stroke-width="1"/>
<text x="132.60" y="258.10" font-size="11.0" text-anchor="start" font-weight="normal" fill="#111" >Zn</text>
<line x1="107.00" y1="265.90" x2="110.50" y2="265.90" stroke="#ff0000" stroke-width="1.35" />
<line x1="121.00" y1="265.90" x2="124.00" y2="265.90" stroke="#ff0000" stroke-width="1.35" />
<line x1="126.30" y1="265.90" x2="129.80" y2="265.90" stroke="#ff0000" stroke-width="1.35" />
<circle cx="116.10" cy="265.90" r="2.9" fill="#fff" stroke="#ff0000" stroke-width="1.2"/>
<text x="132.60" y="270.10" font-size="11.0" text-anchor="start" font-weight="normal" fill="#111" >wild type</text>
<line x1="107.00" y1="277.30" x2="110.50" y2="277.30" stroke="#0033ff" stroke-width="1.35" />
<line x1="121.00" y1="277.30" x2="124.00" y2="277.30" stroke="#0033ff" stroke-width="1.35" />
<line x1="126.30" y1="277.30" x2="129.80" y2="277.30" stroke="#0033ff" stroke-width="1.35" />
<circle cx="116.10" cy="277.30" r="2.9" fill="#fff" stroke="#0033ff" stroke-width="1.2"/>
<text x="132.60" y="281.50" font-size="11.0" text-anchor="start" font-weight="normal" fill="#111" >Y100H</text>
<line x1="107.00" y1="289.00" x2="130.00" y2="289.00" stroke="#0033ff" stroke-width="1.35" />
<circle cx="116.10" cy="289.00" r="3.1" fill="#0033ff" stroke="none" stroke-width="1"/>
<text x="132.60" y="293.20" font-size="11.0" text-anchor="start" font-weight="normal" fill="#111" >Y100H &#160;+ Zn</text>
<text x="362.40" y="246.30" font-size="13.5" text-anchor="start" font-weight="normal" fill="#111" >e)</text>
<clipPath id="clipe"><rect x="403.4" y="244.1" width="198.20000000000005" height="152.20000000000002"/></clipPath>
<g clip-path="url(#clipe)">
<polyline points="403.40,396.30 404.40,396.30 405.39,396.30 406.39,396.30 407.38,396.30 408.38,396.30 409.38,396.30 410.37,396.30 411.37,396.30 412.36,396.30 413.36,396.30 414.36,396.30 415.35,396.30 416.35,396.30 417.34,396.30 418.34,396.30 419.34,396.30 420.33,396.30 421.33,396.30 422.32,396.30 423.32,396.30 424.32,396.30 425.31,396.30 426.31,396.30 427.30,396.30 428.30,396.30 429.30,396.30 430.29,396.30 431.29,396.30 432.28,396.30 433.28,396.30 434.28,396.30 435.27,396.30 436.27,396.30 437.26,396.30 438.26,396.30 439.26,396.30 440.25,396.30 441.25,396.30 442.24,396.30 443.24,396.30 444.24,396.30 445.23,396.30 446.23,396.30 447.22,396.30 448.22,396.30 449.22,396.30 450.21,396.30 451.21,396.30 452.20,396.30 453.20,396.30 454.19,396.30 455.19,396.30 456.19,396.30 457.18,396.30 458.18,396.30 459.17,396.30 460.17,396.30 461.17,396.30 462.16,396.30 463.16,396.30 464.15,396.30 465.15,396.30 466.15,396.30 467.14,396.30 468.14,396.30 469.13,396.30 470.13,396.30 471.13,396.30 472.12,396.30 473.12,396.30 474.11,396.30 475.11,396.30 476.11,396.30 477.10,396.30 478.10,396.30 479.09,396.30 480.09,396.30 481.09,396.30 482.08,396.30 483.08,396.30 484.07,396.30 485.07,396.30 486.07,396.30 487.06,396.30 488.06,396.30 489.05,396.30 490.05,396.30 491.05,396.30 492.04,396.30 493.04,396.30 494.03,396.30 495.03,396.30 496.03,396.30 497.02,396.30 498.02,396.30 499.01,396.30 500.01,396.30 501.01,396.30 502.00,396.30 503.00,396.30 503.99,396.30 504.99,396.30 505.99,396.30 506.98,396.30 507.98,396.30 508.97,396.30 509.97,396.30 510.97,396.30 511.96,396.30 512.96,396.30 513.95,396.30 514.95,396.30 515.95,396.30 516.94,396.30 517.94,396.30 518.93,396.30 519.93,396.30 520.93,396.30 521.92,396.30 522.92,396.30 523.91,396.30 524.91,396.30 525.91,396.30 526.90,396.30 527.90,396.30 528.89,396.30 529.89,396.30 530.89,396.30 531.88,396.30 532.88,396.30 533.87,396.30 534.87,396.30 535.87,396.30 536.86,396.30 537.86,396.30 538.85,396.30 539.85,396.30 540.85,396.30 541.84,396.30 542.84,396.30 543.83,396.30 544.83,396.30 545.83,396.30 546.82,396.30 547.82,396.30 548.81,396.30 549.81,396.30 550.81,396.30 551.80,396.30 552.80,396.30 553.79,396.30 554.79,396.30 555.78,396.30 556.78,396.30 557.78,396.30 558.77,396.30 559.77,396.30 560.76,396.30 561.76,396.30 562.76,396.30 563.75,396.30 564.75,396.30 565.74,396.30 566.74,396.30 567.74,396.30 568.73,396.30 569.73,396.30 570.72,396.30 571.72,396.30 572.72,396.30 573.71,396.30 574.71,396.30 575.70,396.30 576.70,396.30 577.70,396.30 578.69,396.30 579.69,396.30 580.68,396.30 581.68,396.30 582.68,396.30 583.67,396.30 584.67,396.30 585.66,396.30 586.66,396.30 587.66,396.30 588.65,396.30 589.65,396.30 590.64,396.30 591.64,396.30 592.64,396.30 593.63,396.30 594.63,396.30 595.62,396.30 596.62,396.30 597.62,396.30 598.61,396.30 599.61,396.30 600.60,396.30 601.60,396.30" fill="none" stroke="#5a5a5a" stroke-width="1.35" />
<polyline points="403.40,396.30 404.40,396.25 405.39,396.20 406.39,396.16 407.38,396.11 408.38,396.06 409.38,396.01 410.37,395.96 411.37,395.91 412.36,395.87 413.36,395.82 414.36,395.77 415.35,395.72 416.35,395.67 417.34,395.63 418.34,395.58 419.34,395.53 420.33,395.48 421.33,395.43 422.32,395.39 423.32,395.34 424.32,395.29 425.31,395.24 426.31,395.19 427.30,395.14 428.30,395.10 429.30,395.05 430.29,395.00 431.29,394.95 432.28,394.90 433.28,394.86 434.28,394.81 435.27,394.76 436.27,394.71 437.26,394.66 438.26,394.62 439.26,394.57 440.25,394.52 441.25,394.47 442.24,394.42 443.24,394.37 444.24,394.33 445.23,394.28 446.23,394.23 447.22,394.18 448.22,394.13 449.22,394.09 450.21,394.04 451.21,393.99 452.20,393.94 453.20,393.89 454.19,393.85 455.19,393.80 456.19,393.75 457.18,393.70 458.18,393.65 459.17,393.60 460.17,393.56 461.17,393.51 462.16,393.46 463.16,393.41 464.15,393.36 465.15,393.32 466.15,393.27 467.14,393.22 468.14,393.17 469.13,393.12 470.13,393.08 471.13,393.03 472.12,392.98 473.12,392.93 474.11,392.88 475.11,392.83 476.11,392.79 477.10,392.74 478.10,392.69 479.09,392.64 480.09,392.59 481.09,392.55 482.08,392.50 483.08,392.45 484.07,392.40 485.07,392.35 486.07,392.30 487.06,392.26 488.06,392.21 489.05,392.16 490.05,392.11 491.05,392.06 492.04,392.02 493.04,391.97 494.03,391.92 495.03,391.87 496.03,391.82 497.02,391.78 498.02,391.73 499.01,391.68 500.01,391.63 501.01,391.58 502.00,391.53 503.00,391.49 503.99,391.44 504.99,391.39 505.99,391.34 506.98,391.29 507.98,391.25 508.97,391.20 509.97,391.15 510.97,391.10 511.96,391.05 512.96,391.01 513.95,390.96 514.95,390.91 515.95,390.86 516.94,390.81 517.94,390.76 518.93,390.72 519.93,390.67 520.93,390.62 521.92,390.57 522.92,390.52 523.91,390.48 524.91,390.43 525.91,390.38 526.90,390.33 527.90,390.28 528.89,390.24 529.89,390.19 530.89,390.14 531.88,390.09 532.88,390.04 533.87,389.99 534.87,389.95 535.87,389.90 536.86,389.85 537.86,389.80 538.85,389.75 539.85,389.71 540.85,389.66 541.84,389.61 542.84,389.56 543.83,389.51 544.83,389.47 545.83,389.42 546.82,389.37 547.82,389.32 548.81,389.27 549.81,389.22 550.81,389.18 551.80,389.13 552.80,389.08 553.79,389.03 554.79,388.98 555.78,388.94 556.78,388.89 557.78,388.84 558.77,388.79 559.77,388.74 560.76,388.69 561.76,388.65 562.76,388.60 563.75,388.55 564.75,388.50 565.74,388.45 566.74,388.41 567.74,388.36 568.73,388.31 569.73,388.26 570.72,388.21 571.72,388.17 572.72,388.12 573.71,388.07 574.71,388.02 575.70,387.97 576.70,387.92 577.70,387.88 578.69,387.83 579.69,387.78 580.68,387.73 581.68,387.68 582.68,387.64 583.67,387.59 584.67,387.54 585.66,387.49 586.66,387.44 587.66,387.40 588.65,387.35 589.65,387.30 590.64,387.25 591.64,387.20 592.64,387.15 593.63,387.11 594.63,387.06 595.62,387.01 596.62,386.96 597.62,386.91 598.61,386.87 599.61,386.82 600.60,386.77 601.60,386.72" fill="none" stroke="#ff0000" stroke-width="1.35" stroke-dasharray="3.6,2.2"/>
<polyline points="403.40,396.30 404.40,396.15 405.39,396.00 406.39,395.85 407.38,395.70 408.38,395.56 409.38,395.41 410.37,395.26 411.37,395.11 412.36,394.96 413.36,394.81 414.36,394.66 415.35,394.51 416.35,394.36 417.34,394.22 418.34,394.07 419.34,393.92 420.33,393.77 421.33,393.62 422.32,393.47 423.32,393.32 424.32,393.17 425.31,393.02 426.31,392.88 427.30,392.73 428.30,392.58 429.30,392.43 430.29,392.28 431.29,392.13 432.28,391.98 433.28,391.83 434.28,391.68 435.27,391.54 436.27,391.39 437.26,391.24 438.26,391.09 439.26,390.94 440.25,390.79 441.25,390.64 442.24,390.49 443.24,390.34 444.24,390.20 445.23,390.05 446.23,389.90 447.22,389.75 448.22,389.60 449.22,389.45 450.21,389.30 451.21,389.15 452.20,389.00 453.20,388.86 454.19,388.71 455.19,388.56 456.19,388.41 457.18,388.26 458.18,388.11 459.17,387.96 460.17,387.81 461.17,387.66 462.16,387.52 463.16,387.37 464.15,387.22 465.15,387.07 466.15,386.92 467.14,386.77 468.14,386.62 469.13,386.47 470.13,386.32 471.13,386.18 472.12,386.03 473.12,385.88 474.11,385.73 475.11,385.58 476.11,385.43 477.10,385.28 478.10,385.13 479.09,384.98 480.09,384.84 481.09,384.69 482.08,384.54 483.08,384.39 484.07,384.24 485.07,384.09 486.07,383.94 487.06,383.79 488.06,383.64 489.05,383.50 490.05,383.35 491.05,383.20 492.04,383.05 493.04,382.90 494.03,382.75 495.03,382.60 496.03,382.45 497.02,382.30 498.02,382.16 499.01,382.01 500.01,381.86 501.01,381.71 502.00,381.56 503.00,381.41 503.99,381.26 504.99,381.11 505.99,380.96 506.98,380.82 507.98,380.67 508.97,380.52 509.97,380.37 510.97,380.22 511.96,380.07 512.96,379.92 513.95,379.77 514.95,379.62 515.95,379.48 516.94,379.33 517.94,379.18 518.93,379.03 519.93,378.88 520.93,378.73 521.92,378.58 522.92,378.43 523.91,378.28 524.91,378.14 525.91,377.99 526.90,377.84 527.90,377.69 528.89,377.54 529.89,377.39 530.89,377.24 531.88,377.09 532.88,376.94 533.87,376.80 534.87,376.65 535.87,376.50 536.86,376.35 537.86,376.20 538.85,376.05 539.85,375.90 540.85,375.75 541.84,375.60 542.84,375.46 543.83,375.31 544.83,375.16 545.83,375.01 546.82,374.86 547.82,374.71 548.81,374.56 549.81,374.41 550.81,374.26 551.80,374.12 552.80,373.97 553.79,373.82 554.79,373.67 555.78,373.52 556.78,373.37 557.78,373.22 558.77,373.07 559.77,372.92 560.76,372.78 561.76,372.63 562.76,372.48 563.75,372.33 564.75,372.18 565.74,372.03 566.74,371.88 567.74,371.73 568.73,371.58 569.73,371.44 570.72,371.29 571.72,371.14 572.72,370.99 573.71,370.84 574.71,370.69 575.70,370.54 576.70,370.39 577.70,370.24 578.69,370.10 579.69,369.95 580.68,369.80 581.68,369.65 582.68,369.50 583.67,369.35 584.67,369.20 585.66,369.05 586.66,368.91 587.66,368.76 588.65,368.61 589.65,368.46 590.64,368.31 591.64,368.16 592.64,368.01 593.63,367.86 594.63,367.71 595.62,367.57 596.62,367.42 597.62,367.27 598.61,367.12 599.61,366.97 600.60,366.82 601.60,366.67" fill="none" stroke="#0033ff" stroke-width="1.35" stroke-dasharray="3.6,2.2"/>
<polyline points="403.40,396.30 404.40,395.36 405.39,394.42 406.39,393.49 407.38,392.55 408.38,391.61 409.38,390.67 410.37,389.73 411.37,388.79 412.36,387.86 413.36,386.92 414.36,385.98 415.35,385.04 416.35,384.10 417.34,383.17 418.34,382.23 419.34,381.29 420.33,380.35 421.33,379.41 422.32,378.47 423.32,377.54 424.32,376.60 425.31,375.66 426.31,374.72 427.30,373.78 428.30,372.85 429.30,371.91 430.29,370.97 431.29,370.03 432.28,369.09 433.28,368.15 434.28,367.22 435.27,366.28 436.27,365.34 437.26,364.40 438.26,363.46 439.26,362.53 440.25,361.59 441.25,360.65 442.24,359.71 443.24,358.77 444.24,357.83 445.23,356.90 446.23,355.96 447.22,355.02 448.22,354.08 449.22,353.14 450.21,352.21 451.21,351.27 452.20,350.33 453.20,349.39 454.19,348.45 455.19,347.51 456.19,346.58 457.18,345.64 458.18,344.70 459.17,343.76 460.17,342.82 461.17,341.89 462.16,340.95 463.16,340.01 464.15,339.07 465.15,338.13 466.15,337.19 467.14,336.26 468.14,335.32 469.13,334.38 470.13,333.44 471.13,332.50 472.12,331.57 473.12,330.63 474.11,329.69 475.11,328.75 476.11,327.81 477.10,326.87 478.10,325.94 479.09,325.00 480.09,324.06 481.09,323.12 482.08,322.18 483.08,321.25 484.07,320.31 485.07,319.37 486.07,318.43 487.06,317.49 488.06,316.55 489.05,315.62 490.05,314.68 491.05,313.74 492.04,312.80 493.04,311.86 494.03,310.93 495.03,309.99 496.03,309.05 497.02,308.11 498.02,307.17 499.01,306.23 500.01,305.30 501.01,304.36 502.00,303.42 503.00,302.48 503.99,301.54 504.99,300.61 505.99,299.67 506.98,298.73 507.98,297.79 508.97,296.85 509.97,295.91 510.97,294.98 511.96,294.04 512.96,293.10 513.95,292.16 514.95,291.22 515.95,290.29 516.94,289.35 517.94,288.41 518.93,287.47 519.93,286.53 520.93,285.59 521.92,284.66 522.92,283.72 523.91,282.78 524.91,281.84 525.91,280.90 526.90,279.97 527.90,279.03 528.89,278.09 529.89,277.15 530.89,276.21 531.88,275.27 532.88,274.34 533.87,273.40 534.87,272.46 535.87,271.52 536.86,270.58 537.86,269.65 538.85,268.71 539.85,267.77 540.85,266.83 541.84,265.89 542.84,264.95 543.83,264.02 544.83,263.08 545.83,262.14 546.82,261.20 547.82,260.26 548.81,259.33 549.81,258.39 550.81,257.45 551.80,256.51 552.80,255.57 553.79,254.63 554.79,253.70 555.78,252.76 556.78,251.82 557.78,250.88 558.77,249.94 559.77,249.01 560.76,248.07 561.76,247.13 562.76,246.19 563.75,245.25 564.75,244.31 565.74,243.38 566.74,242.44 567.74,241.50 568.73,240.56 569.73,239.62 570.72,238.69 571.72,237.75 572.72,236.81 573.71,235.87 574.71,234.93 575.70,233.99 576.70,233.06 577.70,232.12 578.69,231.18 579.69,230.24 580.68,229.30 581.68,228.37 582.68,227.43 583.67,226.49 584.67,225.55 585.66,224.61 586.66,223.67 587.66,222.74 588.65,221.80 589.65,220.86 590.64,219.92 591.64,218.98 592.64,218.04 593.63,217.11 594.63,216.17 595.62,215.23 596.62,214.29 597.62,213.35 598.61,212.42 599.61,211.48 600.60,210.54 601.60,209.60" fill="none" stroke="#0033ff" stroke-width="1.35" />
</g>
<rect x="403.40" y="244.10" width="198.20" height="152.20" fill="none" stroke="#111" stroke-width="1.2"/>
<circle cx="452.95" cy="347.60" r="2.4" fill="#fff" stroke="#0033ff" stroke-width="1.2"/>
<circle cx="452.95" cy="346.10" r="1.9" fill="#fff" stroke="none" stroke-width="1"/>
<circle cx="452.95" cy="349.10" r="1.9" fill="#fff" stroke="none" stroke-width="1"/>
<circle cx="452.95" cy="346.10" r="1.2" fill="#000" stroke="none" stroke-width="1"/>
<circle cx="452.95" cy="349.10" r="1.2" fill="#000" stroke="none" stroke-width="1"/>
<circle cx="477.73" cy="327.30" r="2.4" fill="#fff" stroke="#0033ff" stroke-width="1.2"/>
<circle cx="477.73" cy="325.50" r="1.9" fill="#fff" stroke="none" stroke-width="1"/>
<circle cx="477.73" cy="329.10" r="1.9" fill="#fff" stroke="none" stroke-width="1"/>
<circle cx="477.73" cy="325.50" r="1.2" fill="#000" stroke="none" stroke-width="1"/>
<circle cx="477.73" cy="329.10" r="1.2" fill="#000" stroke="none" stroke-width="1"/>
<circle cx="502.50" cy="302.44" r="2.4" fill="#fff" stroke="#0033ff" stroke-width="1.2"/>
<circle cx="502.50" cy="301.24" r="1.9" fill="#fff" stroke="none" stroke-width="1"/>
<circle cx="502.50" cy="303.64" r="1.9" fill="#fff" stroke="none" stroke-width="1"/>
<circle cx="502.50" cy="301.24" r="1.2" fill="#000" stroke="none" stroke-width="1"/>
<circle cx="502.50" cy="303.64" r="1.2" fill="#000" stroke="none" stroke-width="1"/>
<circle cx="527.27" cy="279.61" r="2.4" fill="#fff" stroke="#0033ff" stroke-width="1.2"/>
<circle cx="527.27" cy="276.61" r="1.9" fill="#fff" stroke="none" stroke-width="1"/>
<circle cx="527.27" cy="281.81" r="1.9" fill="#fff" stroke="none" stroke-width="1"/>
<circle cx="527.27" cy="276.61" r="1.2" fill="#000" stroke="none" stroke-width="1"/>
<circle cx="527.27" cy="281.81" r="1.2" fill="#000" stroke="none" stroke-width="1"/>
<circle cx="452.95" cy="387.68" r="2.4" fill="#fff" stroke="#0033ff" stroke-width="1.2"/>
<circle cx="452.95" cy="387.68" r="1.9" fill="#fff" stroke="none" stroke-width="1"/>
<circle cx="452.95" cy="387.68" r="1.2" fill="#000" stroke="none" stroke-width="1"/>
<circle cx="477.73" cy="384.83" r="2.4" fill="#fff" stroke="#0033ff" stroke-width="1.2"/>
<circle cx="477.73" cy="384.83" r="1.9" fill="#fff" stroke="none" stroke-width="1"/>
<circle cx="477.73" cy="384.83" r="1.2" fill="#000" stroke="none" stroke-width="1"/>
<circle cx="502.50" cy="380.88" r="2.4" fill="#fff" stroke="#0033ff" stroke-width="1.2"/>
<circle cx="502.50" cy="380.88" r="1.9" fill="#fff" stroke="none" stroke-width="1"/>
<circle cx="502.50" cy="380.88" r="1.2" fill="#000" stroke="none" stroke-width="1"/>
<circle cx="527.27" cy="377.22" r="2.4" fill="#fff" stroke="#0033ff" stroke-width="1.2"/>
<circle cx="527.27" cy="377.22" r="1.9" fill="#fff" stroke="none" stroke-width="1"/>
<circle cx="527.27" cy="377.22" r="1.2" fill="#000" stroke="none" stroke-width="1"/>
<circle cx="452.95" cy="393.76" r="2.4" fill="#fff" stroke="#ff0000" stroke-width="1.2"/>
<circle cx="452.95" cy="393.76" r="1.9" fill="#fff" stroke="none" stroke-width="1"/>
<circle cx="452.95" cy="393.76" r="1.2" fill="#000" stroke="none" stroke-width="1"/>
<circle cx="477.73" cy="392.75" r="2.4" fill="#fff" stroke="#ff0000" stroke-width="1.2"/>
<circle cx="477.73" cy="392.75" r="1.9" fill="#fff" stroke="none" stroke-width="1"/>
<circle cx="477.73" cy="392.75" r="1.2" fill="#000" stroke="none" stroke-width="1"/>
<circle cx="502.50" cy="390.72" r="2.4" fill="#fff" stroke="#ff0000" stroke-width="1.2"/>
<circle cx="502.50" cy="390.72" r="1.9" fill="#fff" stroke="none" stroke-width="1"/>
<circle cx="502.50" cy="390.72" r="1.2" fill="#000" stroke="none" stroke-width="1"/>
<circle cx="527.27" cy="389.70" r="2.4" fill="#fff" stroke="#ff0000" stroke-width="1.2"/>
<circle cx="527.27" cy="389.70" r="1.9" fill="#fff" stroke="none" stroke-width="1"/>
<circle cx="527.27" cy="389.70" r="1.2" fill="#000" stroke="none" stroke-width="1"/>
<circle cx="452.95" cy="395.08" r="2.4" fill="#fff" stroke="#333" stroke-width="1.2"/>
<circle cx="452.95" cy="395.08" r="1.9" fill="#fff" stroke="none" stroke-width="1"/>
<circle cx="452.95" cy="397.38" r="1.9" fill="#fff" stroke="none" stroke-width="1"/>
<circle cx="452.95" cy="395.08" r="1.2" fill="#000" stroke="none" stroke-width="1"/>
<circle cx="452.95" cy="397.38" r="1.2" fill="#000" stroke="none" stroke-width="1"/>
<circle cx="477.73" cy="395.08" r="2.4" fill="#fff" stroke="#333" stroke-width="1.2"/>
<circle cx="477.73" cy="395.08" r="1.9" fill="#fff" stroke="none" stroke-width="1"/>
<circle cx="477.73" cy="397.38" r="1.9" fill="#fff" stroke="none" stroke-width="1"/>
<circle cx="477.73" cy="395.08" r="1.2" fill="#000" stroke="none" stroke-width="1"/>
<circle cx="477.73" cy="397.38" r="1.2" fill="#000" stroke="none" stroke-width="1"/>
<circle cx="502.50" cy="395.08" r="2.4" fill="#fff" stroke="#333" stroke-width="1.2"/>
<circle cx="502.50" cy="395.08" r="1.9" fill="#fff" stroke="none" stroke-width="1"/>
<circle cx="502.50" cy="397.38" r="1.9" fill="#fff" stroke="none" stroke-width="1"/>
<circle cx="502.50" cy="395.08" r="1.2" fill="#000" stroke="none" stroke-width="1"/>
<circle cx="502.50" cy="397.38" r="1.2" fill="#000" stroke="none" stroke-width="1"/>
<circle cx="527.27" cy="395.08" r="2.4" fill="#fff" stroke="#333" stroke-width="1.2"/>
<circle cx="527.27" cy="395.08" r="1.9" fill="#fff" stroke="none" stroke-width="1"/>
<circle cx="527.27" cy="397.38" r="1.9" fill="#fff" stroke="none" stroke-width="1"/>
<circle cx="527.27" cy="395.08" r="1.2" fill="#000" stroke="none" stroke-width="1"/>
<circle cx="527.27" cy="397.38" r="1.2" fill="#000" stroke="none" stroke-width="1"/>
<line x1="400.10" y1="396.30" x2="403.40" y2="396.30" stroke="#111" stroke-width="1.1" />
<text x="393.80" y="400.50" font-size="11.0" text-anchor="end" font-weight="normal" fill="#111" >0</text>
<line x1="400.10" y1="345.57" x2="403.40" y2="345.57" stroke="#111" stroke-width="1.1" />
<text x="393.80" y="349.77" font-size="11.0" text-anchor="end" font-weight="normal" fill="#111" >0.5</text>
<line x1="400.10" y1="294.83" x2="403.40" y2="294.83" stroke="#111" stroke-width="1.1" />
<text x="393.80" y="299.03" font-size="11.0" text-anchor="end" font-weight="normal" fill="#111" >1.0</text>
<line x1="400.10" y1="244.10" x2="403.40" y2="244.10" stroke="#111" stroke-width="1.1" />
<text x="393.80" y="248.30" font-size="11.0" text-anchor="end" font-weight="normal" fill="#111" >1.5</text>
<line x1="403.40" y1="396.30" x2="403.40" y2="399.50" stroke="#111" stroke-width="1.1" />
<text x="403.40" y="412.00" font-size="11.0" text-anchor="middle" font-weight="normal" fill="#111" >0</text>
<line x1="452.95" y1="396.30" x2="452.95" y2="399.50" stroke="#111" stroke-width="1.1" />
<text x="452.95" y="412.00" font-size="11.0" text-anchor="middle" font-weight="normal" fill="#111" >0.2</text>
<line x1="502.50" y1="396.30" x2="502.50" y2="399.50" stroke="#111" stroke-width="1.1" />
<text x="502.50" y="412.00" font-size="11.0" text-anchor="middle" font-weight="normal" fill="#111" >0.4</text>
<line x1="552.05" y1="396.30" x2="552.05" y2="399.50" stroke="#111" stroke-width="1.1" />
<text x="552.05" y="412.00" font-size="11.0" text-anchor="middle" font-weight="normal" fill="#111" >0.6</text>
<line x1="601.60" y1="396.30" x2="601.60" y2="399.50" stroke="#111" stroke-width="1.1" />
<text x="601.60" y="412.00" font-size="11.0" text-anchor="middle" font-weight="normal" fill="#111" >0.8</text>
<text x="502.5" y="425.6" font-size="11.0" font-weight="bold" text-anchor="middle" fill="#111">[pNA] (mM)</text>
<text transform="translate(374.9,319.5) rotate(-90)" x="0" y="0" font-size="11.0" font-weight="bold" text-anchor="middle" fill="#111"><tspan font-style="italic">V</tspan><tspan font-size="7.5" dy="2">0</tspan><tspan dy="-2"> (μM s</tspan><tspan font-size="6.8" dy="-4.3">−1</tspan><tspan dy="4.3">)</tspan></text>
<line x1="413.20" y1="253.90" x2="436.20" y2="253.90" stroke="#5a5a5a" stroke-width="1.35" />
<circle cx="422.30" cy="253.90" r="3.1" fill="#5a5a5a" stroke="none" stroke-width="1"/>
<text x="438.80" y="258.10" font-size="11.0" text-anchor="start" font-weight="normal" fill="#111" >Zn</text>
<line x1="413.20" y1="265.90" x2="416.70" y2="265.90" stroke="#ff0000" stroke-width="1.35" />
<line x1="427.20" y1="265.90" x2="430.20" y2="265.90" stroke="#ff0000" stroke-width="1.35" />
<line x1="432.50" y1="265.90" x2="436.00" y2="265.90" stroke="#ff0000" stroke-width="1.35" />
<circle cx="422.30" cy="265.90" r="2.9" fill="#fff" stroke="#ff0000" stroke-width="1.2"/>
<text x="438.80" y="270.10" font-size="11.0" text-anchor="start" font-weight="normal" fill="#111" >wild type</text>
<line x1="413.20" y1="277.30" x2="416.70" y2="277.30" stroke="#0033ff" stroke-width="1.35" />
<line x1="427.20" y1="277.30" x2="430.20" y2="277.30" stroke="#0033ff" stroke-width="1.35" />
<line x1="432.50" y1="277.30" x2="436.00" y2="277.30" stroke="#0033ff" stroke-width="1.35" />
<circle cx="422.30" cy="277.30" r="2.9" fill="#fff" stroke="#0033ff" stroke-width="1.2"/>
<text x="438.80" y="281.50" font-size="11.0" text-anchor="start" font-weight="normal" fill="#111" >Y100H</text>
<line x1="413.20" y1="289.00" x2="436.20" y2="289.00" stroke="#0033ff" stroke-width="1.35" />
<circle cx="422.30" cy="289.00" r="3.1" fill="#0033ff" stroke="none" stroke-width="1"/>
<text x="438.80" y="293.20" font-size="11.0" text-anchor="start" font-weight="normal" fill="#111" >Y100H &#160;+ Zn</text>
</svg>
</body></html>
